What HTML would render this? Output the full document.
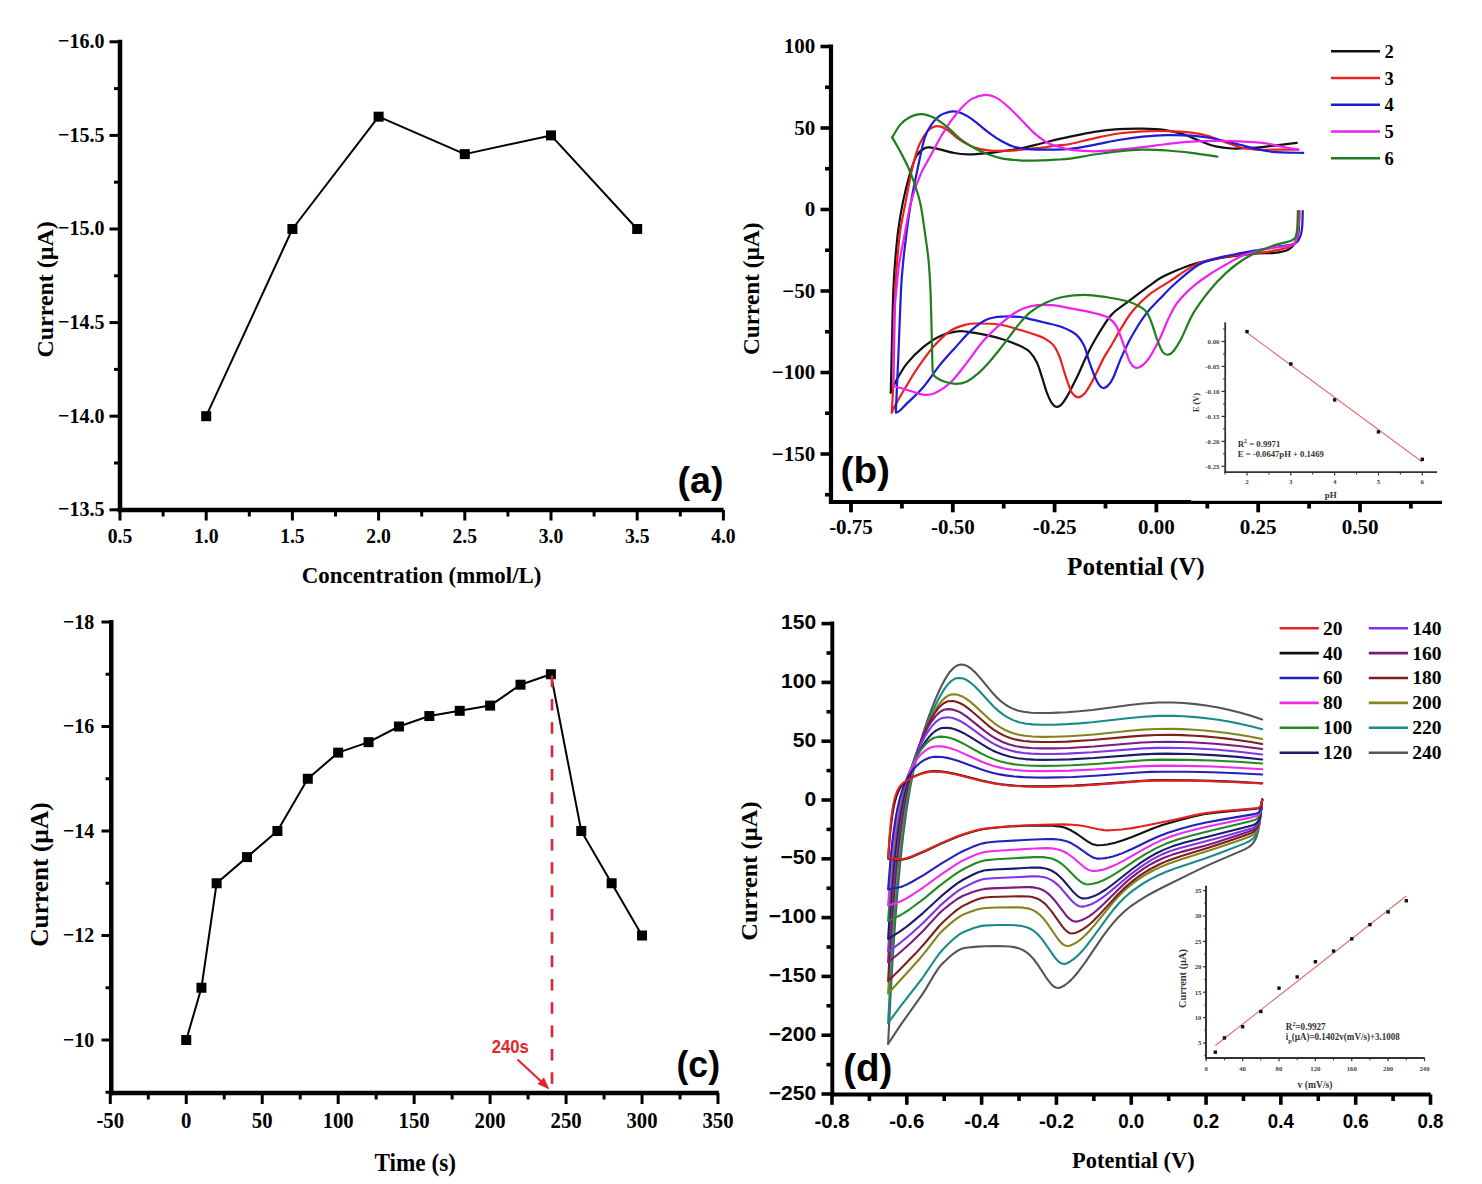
<!DOCTYPE html>
<html><head><meta charset="utf-8"><title>Figure</title><style>html,body{margin:0;padding:0;background:#fff;width:1482px;height:1184px;overflow:hidden}svg{display:block}</style></head><body>
<svg width="1482" height="1184" viewBox="0 0 1482 1184">
<rect width="1482" height="1184" fill="#fff"/>
<line x1="109.5" y1="41.8" x2="120" y2="41.8" stroke="#000" stroke-width="3"/>
<text x="104.5" y="48.1" font-size="22" font-family='"Liberation Serif", serif' font-weight="bold" fill="#000" text-anchor="end" textLength="46.4" lengthAdjust="spacingAndGlyphs">−16.0</text>
<line x1="114" y1="88.6" x2="120" y2="88.6" stroke="#000" stroke-width="3"/>
<line x1="109.5" y1="135.4" x2="120" y2="135.4" stroke="#000" stroke-width="3"/>
<text x="104.5" y="141.7" font-size="22" font-family='"Liberation Serif", serif' font-weight="bold" fill="#000" text-anchor="end" textLength="46.4" lengthAdjust="spacingAndGlyphs">−15.5</text>
<line x1="114" y1="182.2" x2="120" y2="182.2" stroke="#000" stroke-width="3"/>
<line x1="109.5" y1="229" x2="120" y2="229" stroke="#000" stroke-width="3"/>
<text x="104.5" y="235.3" font-size="22" font-family='"Liberation Serif", serif' font-weight="bold" fill="#000" text-anchor="end" textLength="46.4" lengthAdjust="spacingAndGlyphs">−15.0</text>
<line x1="114" y1="275.8" x2="120" y2="275.8" stroke="#000" stroke-width="3"/>
<line x1="109.5" y1="322.6" x2="120" y2="322.6" stroke="#000" stroke-width="3"/>
<text x="104.5" y="328.9" font-size="22" font-family='"Liberation Serif", serif' font-weight="bold" fill="#000" text-anchor="end" textLength="46.4" lengthAdjust="spacingAndGlyphs">−14.5</text>
<line x1="114" y1="369.4" x2="120" y2="369.4" stroke="#000" stroke-width="3"/>
<line x1="109.5" y1="416.2" x2="120" y2="416.2" stroke="#000" stroke-width="3"/>
<text x="104.5" y="422.5" font-size="22" font-family='"Liberation Serif", serif' font-weight="bold" fill="#000" text-anchor="end" textLength="46.4" lengthAdjust="spacingAndGlyphs">−14.0</text>
<line x1="114" y1="463" x2="120" y2="463" stroke="#000" stroke-width="3"/>
<line x1="109.5" y1="509.8" x2="120" y2="509.8" stroke="#000" stroke-width="3"/>
<text x="104.5" y="516.1" font-size="22" font-family='"Liberation Serif", serif' font-weight="bold" fill="#000" text-anchor="end" textLength="46.4" lengthAdjust="spacingAndGlyphs">−13.5</text>
<line x1="120" y1="510" x2="120" y2="520.5" stroke="#000" stroke-width="3"/>
<text x="120" y="542.7" font-size="21.5" font-family='"Liberation Serif", serif' font-weight="bold" fill="#000" text-anchor="middle" textLength="24.5" lengthAdjust="spacingAndGlyphs">0.5</text>
<line x1="163.1" y1="510" x2="163.1" y2="516.5" stroke="#000" stroke-width="3"/>
<line x1="206.2" y1="510" x2="206.2" y2="520.5" stroke="#000" stroke-width="3"/>
<text x="206.2" y="542.7" font-size="21.5" font-family='"Liberation Serif", serif' font-weight="bold" fill="#000" text-anchor="middle" textLength="24.5" lengthAdjust="spacingAndGlyphs">1.0</text>
<line x1="249.3" y1="510" x2="249.3" y2="516.5" stroke="#000" stroke-width="3"/>
<line x1="292.4" y1="510" x2="292.4" y2="520.5" stroke="#000" stroke-width="3"/>
<text x="292.4" y="542.7" font-size="21.5" font-family='"Liberation Serif", serif' font-weight="bold" fill="#000" text-anchor="middle" textLength="24.5" lengthAdjust="spacingAndGlyphs">1.5</text>
<line x1="335.5" y1="510" x2="335.5" y2="516.5" stroke="#000" stroke-width="3"/>
<line x1="378.6" y1="510" x2="378.6" y2="520.5" stroke="#000" stroke-width="3"/>
<text x="378.6" y="542.7" font-size="21.5" font-family='"Liberation Serif", serif' font-weight="bold" fill="#000" text-anchor="middle" textLength="24.5" lengthAdjust="spacingAndGlyphs">2.0</text>
<line x1="421.7" y1="510" x2="421.7" y2="516.5" stroke="#000" stroke-width="3"/>
<line x1="464.8" y1="510" x2="464.8" y2="520.5" stroke="#000" stroke-width="3"/>
<text x="464.8" y="542.7" font-size="21.5" font-family='"Liberation Serif", serif' font-weight="bold" fill="#000" text-anchor="middle" textLength="24.5" lengthAdjust="spacingAndGlyphs">2.5</text>
<line x1="507.9" y1="510" x2="507.9" y2="516.5" stroke="#000" stroke-width="3"/>
<line x1="551" y1="510" x2="551" y2="520.5" stroke="#000" stroke-width="3"/>
<text x="551" y="542.7" font-size="21.5" font-family='"Liberation Serif", serif' font-weight="bold" fill="#000" text-anchor="middle" textLength="24.5" lengthAdjust="spacingAndGlyphs">3.0</text>
<line x1="594.1" y1="510" x2="594.1" y2="516.5" stroke="#000" stroke-width="3"/>
<line x1="637.2" y1="510" x2="637.2" y2="520.5" stroke="#000" stroke-width="3"/>
<text x="637.2" y="542.7" font-size="21.5" font-family='"Liberation Serif", serif' font-weight="bold" fill="#000" text-anchor="middle" textLength="24.5" lengthAdjust="spacingAndGlyphs">3.5</text>
<line x1="680.3" y1="510" x2="680.3" y2="516.5" stroke="#000" stroke-width="3"/>
<line x1="723.4" y1="510" x2="723.4" y2="520.5" stroke="#000" stroke-width="3"/>
<text x="723.4" y="542.7" font-size="21.5" font-family='"Liberation Serif", serif' font-weight="bold" fill="#000" text-anchor="middle" textLength="24.5" lengthAdjust="spacingAndGlyphs">4.0</text>
<line x1="120" y1="39.8" x2="120" y2="512.2" stroke="#000" stroke-width="4.5"/>
<line x1="117.8" y1="510" x2="723.6" y2="510" stroke="#000" stroke-width="4.5"/>
<text x="421.6" y="583.4" font-size="23" font-family='"Liberation Serif", serif' font-weight="bold" fill="#000" text-anchor="middle" textLength="239.6" lengthAdjust="spacingAndGlyphs">Concentration (mmol/L)</text>
<text x="52.6" y="289.4" font-size="24" font-family='"Liberation Serif", serif' font-weight="bold" fill="#000" text-anchor="middle" textLength="136" lengthAdjust="spacingAndGlyphs" transform="rotate(-90 52.6 289.4)">Current (µA)</text>
<path d="M206.2 416.2 L292.4 229 L378.6 116.68 L464.8 154.12 L551 135.4 L637.2 229" fill="none" stroke="#000" stroke-width="2" stroke-linejoin="round" stroke-linecap="round"/>
<rect x="201.2" y="411.2" width="10" height="10" fill="#000"/>
<rect x="287.4" y="224" width="10" height="10" fill="#000"/>
<rect x="373.6" y="111.68" width="10" height="10" fill="#000"/>
<rect x="459.8" y="149.12" width="10" height="10" fill="#000"/>
<rect x="546" y="130.4" width="10" height="10" fill="#000"/>
<rect x="632.2" y="224" width="10" height="10" fill="#000"/>
<text x="677.5" y="493.3" font-size="37.5" font-family='"Liberation Sans", sans-serif' font-weight="bold" fill="#000" textLength="46" lengthAdjust="spacingAndGlyphs">(a)</text>
<line x1="820.5" y1="46.5" x2="831" y2="46.5" stroke="#000" stroke-width="3.6"/>
<text x="815.3" y="53.1" font-size="21" font-family='"Liberation Serif", serif' font-weight="bold" fill="#000" text-anchor="end">100</text>
<line x1="820.5" y1="128" x2="831" y2="128" stroke="#000" stroke-width="3.6"/>
<text x="815.3" y="134.6" font-size="21" font-family='"Liberation Serif", serif' font-weight="bold" fill="#000" text-anchor="end">50</text>
<line x1="820.5" y1="209.5" x2="831" y2="209.5" stroke="#000" stroke-width="3.6"/>
<text x="815.3" y="216.1" font-size="21" font-family='"Liberation Serif", serif' font-weight="bold" fill="#000" text-anchor="end">0</text>
<line x1="820.5" y1="291" x2="831" y2="291" stroke="#000" stroke-width="3.6"/>
<text x="815.3" y="297.6" font-size="21" font-family='"Liberation Serif", serif' font-weight="bold" fill="#000" text-anchor="end">−50</text>
<line x1="820.5" y1="372.5" x2="831" y2="372.5" stroke="#000" stroke-width="3.6"/>
<text x="815.3" y="379.1" font-size="21" font-family='"Liberation Serif", serif' font-weight="bold" fill="#000" text-anchor="end">−100</text>
<line x1="820.5" y1="454" x2="831" y2="454" stroke="#000" stroke-width="3.6"/>
<text x="815.3" y="460.6" font-size="21" font-family='"Liberation Serif", serif' font-weight="bold" fill="#000" text-anchor="end">−150</text>
<line x1="825" y1="87.25" x2="831" y2="87.25" stroke="#000" stroke-width="3.6"/>
<line x1="825" y1="168.75" x2="831" y2="168.75" stroke="#000" stroke-width="3.6"/>
<line x1="825" y1="250.25" x2="831" y2="250.25" stroke="#000" stroke-width="3.6"/>
<line x1="825" y1="331.75" x2="831" y2="331.75" stroke="#000" stroke-width="3.6"/>
<line x1="825" y1="413.25" x2="831" y2="413.25" stroke="#000" stroke-width="3.6"/>
<line x1="825" y1="494.75" x2="831" y2="494.75" stroke="#000" stroke-width="3.6"/>
<line x1="851" y1="502" x2="851" y2="512.3" stroke="#000" stroke-width="3.8"/>
<text x="851" y="533.8" font-size="21" font-family='"Liberation Serif", serif' font-weight="bold" fill="#000" text-anchor="middle">-0.75</text>
<line x1="952.8" y1="502" x2="952.8" y2="512.3" stroke="#000" stroke-width="3.8"/>
<text x="952.8" y="533.8" font-size="21" font-family='"Liberation Serif", serif' font-weight="bold" fill="#000" text-anchor="middle">-0.50</text>
<line x1="1054.6" y1="502" x2="1054.6" y2="512.3" stroke="#000" stroke-width="3.8"/>
<text x="1054.6" y="533.8" font-size="21" font-family='"Liberation Serif", serif' font-weight="bold" fill="#000" text-anchor="middle">-0.25</text>
<line x1="1156.4" y1="502" x2="1156.4" y2="512.3" stroke="#000" stroke-width="3.8"/>
<text x="1156.4" y="533.8" font-size="21" font-family='"Liberation Serif", serif' font-weight="bold" fill="#000" text-anchor="middle">0.00</text>
<line x1="1258.2" y1="502" x2="1258.2" y2="512.3" stroke="#000" stroke-width="3.8"/>
<text x="1258.2" y="533.8" font-size="21" font-family='"Liberation Serif", serif' font-weight="bold" fill="#000" text-anchor="middle">0.25</text>
<line x1="1360" y1="502" x2="1360" y2="512.3" stroke="#000" stroke-width="3.8"/>
<text x="1360" y="533.8" font-size="21" font-family='"Liberation Serif", serif' font-weight="bold" fill="#000" text-anchor="middle">0.50</text>
<line x1="901.9" y1="502" x2="901.9" y2="508.5" stroke="#000" stroke-width="3.8"/>
<line x1="1003.7" y1="502" x2="1003.7" y2="508.5" stroke="#000" stroke-width="3.8"/>
<line x1="1105.5" y1="502" x2="1105.5" y2="508.5" stroke="#000" stroke-width="3.8"/>
<line x1="1207.3" y1="502" x2="1207.3" y2="508.5" stroke="#000" stroke-width="3.8"/>
<line x1="1309.1" y1="502" x2="1309.1" y2="508.5" stroke="#000" stroke-width="3.8"/>
<line x1="1410.9" y1="502" x2="1410.9" y2="508.5" stroke="#000" stroke-width="3.8"/>
<line x1="831" y1="44.5" x2="831" y2="504.1" stroke="#000" stroke-width="4.2"/>
<line x1="828.9" y1="502" x2="1442" y2="502" stroke="#000" stroke-width="4.2"/>
<text x="1135.9" y="574.8" font-size="25" font-family='"Liberation Serif", serif' font-weight="bold" fill="#000" text-anchor="middle" textLength="137.6" lengthAdjust="spacingAndGlyphs">Potential (V)</text>
<text x="758.9" y="288.7" font-size="23" font-family='"Liberation Serif", serif' font-weight="bold" fill="#000" text-anchor="middle" textLength="132.6" lengthAdjust="spacingAndGlyphs" transform="rotate(-90 758.9 288.7)">Current (µA)</text>
<path d="M1296.7 142.9 C1294 143.22 1285.9 144.13 1280.5 144.8 C1275.1 145.47 1269.7 146.35 1264.3 146.9 C1258.9 147.45 1253.48 147.83 1248.1 148.1 C1242.72 148.37 1237.4 148.78 1232 148.5 C1226.6 148.22 1221.1 147.68 1215.7 146.4 C1210.3 145.12 1204.98 142.82 1199.6 140.8 C1194.22 138.78 1189.35 136.13 1183.4 134.3 C1177.45 132.47 1170.65 130.75 1163.9 129.8 C1157.15 128.85 1150.45 128.72 1142.9 128.6 C1135.35 128.48 1126.7 128.55 1118.6 129.1 C1110.5 129.65 1102.4 130.63 1094.3 131.9 C1086.2 133.17 1077.57 135.1 1070 136.7 C1062.43 138.3 1054.67 140.13 1048.9 141.5 C1043.13 142.87 1039.9 143.78 1035.4 144.9 C1030.9 146.02 1026.4 147.3 1021.9 148.2 C1017.4 149.1 1012.9 149.62 1008.4 150.3 C1003.9 150.98 999.4 151.75 994.9 152.3 C990.4 152.85 985.92 153.27 981.4 153.6 C976.88 153.93 972.32 154.4 967.8 154.3 C963.28 154.2 958.8 153.78 954.3 153 C949.8 152.22 944.62 150.5 940.8 149.6 C936.98 148.7 934.1 147.83 931.4 147.6 C928.7 147.37 927.08 146.85 924.6 148.2 C922.12 149.55 918.98 151.3 916.5 155.7 C914.02 160.1 911.95 166.95 909.7 174.6 C907.45 182.25 904.92 192.3 903 201.6 C901.08 210.9 899.5 220.53 898.2 230.4 C896.9 240.27 896.02 250.67 895.2 260.8 C894.38 270.93 893.85 277.33 893.3 291.2 C892.75 305.07 892.32 327.1 891.9 344 C891.48 360.9 890.98 384.5 890.8 392.6" fill="none" stroke="#111111" stroke-width="2.2" stroke-linejoin="round" stroke-linecap="round"/>
<path d="M890.8 392.6 C891.7 390.62 893.5 385.57 896.2 380.7 C898.9 375.83 902.5 368.98 907 363.4 C911.5 357.82 917.8 351.7 923.2 347.2 C928.6 342.7 934 339 939.4 336.4 C944.8 333.8 951.1 332.4 955.6 331.6 C960.1 330.8 961 330.98 966.4 331.6 C971.8 332.22 981.7 333.95 988 335.3 C994.3 336.65 998.8 337.9 1004.2 339.7 C1009.6 341.5 1016.1 344.02 1020.4 346.1 C1024.7 348.18 1027.27 349.5 1030 352.2 C1032.73 354.9 1034.77 358.03 1036.8 362.3 C1038.83 366.57 1040.52 372.73 1042.2 377.8 C1043.88 382.87 1045.33 388.53 1046.9 392.7 C1048.47 396.87 1050.02 400.43 1051.6 402.8 C1053.18 405.17 1054.82 406.55 1056.4 406.9 C1057.98 407.25 1059.42 406.48 1061.1 404.9 C1062.78 403.32 1064.7 400.33 1066.5 397.4 C1068.3 394.47 1069.88 391.23 1071.9 387.3 C1073.92 383.37 1076.23 378.87 1078.6 373.8 C1080.97 368.73 1083.38 362.53 1086.1 356.9 C1088.82 351.27 1090.75 346.93 1094.9 340 C1099.05 333.07 1105.62 321.57 1111 315.3 C1116.38 309.03 1120.9 307.25 1127.2 302.4 C1133.5 297.55 1143.2 290.32 1148.8 286.2 C1154.4 282.08 1156.1 280.37 1160.8 277.7 C1165.5 275.03 1171.6 272.45 1177 270.2 C1182.4 267.95 1187.8 265.82 1193.2 264.2 C1198.6 262.58 1204 261.67 1209.4 260.5 C1214.8 259.33 1220.2 258.1 1225.6 257.2 C1231 256.3 1236.4 255.73 1241.8 255.1 C1247.2 254.47 1252.6 253.77 1258 253.4 C1263.4 253.03 1269.17 253.52 1274.2 252.9 C1279.23 252.28 1284.73 251.35 1288.2 249.7 C1291.67 248.05 1293.28 245.95 1295 243 C1296.72 240.05 1297.78 237.33 1298.5 232 C1299.22 226.67 1299.17 214.5 1299.3 211" fill="none" stroke="#111111" stroke-width="2.2" stroke-linejoin="round" stroke-linecap="round"/>
<path d="M1298.3 149.7 C1293.98 149.7 1279.42 149.7 1272.4 149.7 C1265.38 149.7 1261.6 150.12 1256.2 149.7 C1250.8 149.28 1245.4 148.55 1240 147.2 C1234.6 145.85 1229.2 143.48 1223.8 141.6 C1218.4 139.72 1212.98 137.38 1207.6 135.9 C1202.22 134.42 1198.23 133.5 1191.5 132.7 C1184.77 131.9 1175.3 131.32 1167.2 131.1 C1159.1 130.88 1151 131 1142.9 131.4 C1134.8 131.8 1126.7 132.35 1118.6 133.5 C1110.5 134.65 1102.4 136.55 1094.3 138.3 C1086.2 140.05 1076.43 142.8 1070 144 C1063.57 145.2 1060.33 144.9 1055.7 145.5 C1051.07 146.1 1046.72 147.03 1042.2 147.6 C1037.68 148.17 1033.12 148.45 1028.6 148.9 C1024.08 149.35 1019.6 149.97 1015.1 150.3 C1010.6 150.63 1006.1 150.9 1001.6 150.9 C997.1 150.9 992.6 150.85 988.1 150.3 C983.6 149.75 978.65 148.95 974.6 147.6 C970.55 146.25 966.95 144 963.8 142.2 C960.65 140.4 958.4 138.83 955.7 136.8 C953 134.77 950.08 131.7 947.6 130 C945.12 128.3 943.05 127.17 940.8 126.6 C938.55 126.03 936.35 125.8 934.1 126.6 C931.85 127.4 929.78 128.35 927.3 131.4 C924.82 134.45 921.68 138.83 919.2 144.9 C916.72 150.97 914.65 158.35 912.4 167.8 C910.15 177.25 907.72 191.17 905.7 201.6 C903.68 212.03 901.72 220.53 900.3 230.4 C898.88 240.27 898.05 250.67 897.2 260.8 C896.35 270.93 895.7 278 895.2 291.2 C894.7 304.4 894.53 324.37 894.2 340 C893.87 355.63 893.6 372.92 893.2 385 C892.8 397.08 892.03 407.92 891.8 412.5" fill="none" stroke="#e8221e" stroke-width="2.2" stroke-linejoin="round" stroke-linecap="round"/>
<path d="M891.8 412.5 C892.53 410.98 893.67 407.98 896.2 403.4 C898.73 398.82 903.4 390.95 907 385 C910.6 379.05 913.3 374.18 917.8 367.7 C922.3 361.22 928.6 352.22 934 346.1 C939.4 339.98 944.8 334.6 950.2 331 C955.6 327.4 961.9 325.75 966.4 324.5 C970.9 323.25 971.8 323.5 977.2 323.5 C982.6 323.5 991.6 323.42 998.8 324.5 C1006 325.58 1013.53 328.02 1020.4 330 C1027.27 331.98 1035.58 334.73 1040 336.4 C1044.42 338.07 1044.63 338.5 1046.9 340 C1049.17 341.5 1051.57 342.82 1053.6 345.4 C1055.63 347.98 1057.4 351.33 1059.1 355.5 C1060.8 359.67 1062.35 365.88 1063.8 370.4 C1065.25 374.92 1066.45 378.88 1067.8 382.6 C1069.15 386.32 1070.2 390.23 1071.9 392.7 C1073.6 395.17 1075.97 397.17 1078 397.4 C1080.03 397.63 1081.97 396.35 1084.1 394.1 C1086.23 391.85 1088.55 387.85 1090.8 383.9 C1093.05 379.95 1095.35 374.9 1097.6 370.4 C1099.85 365.9 1102.07 360.97 1104.3 356.9 C1106.53 352.83 1108.08 350.95 1111 346 C1113.92 341.05 1118.2 333.03 1121.8 327.2 C1125.4 321.37 1128.1 316.4 1132.6 311 C1137.1 305.6 1142.5 299.83 1148.8 294.8 C1155.1 289.77 1163 285.62 1170.4 280.8 C1177.8 275.98 1186.7 269.38 1193.2 265.9 C1199.7 262.42 1204 261.43 1209.4 259.9 C1214.8 258.37 1220.2 257.6 1225.6 256.7 C1231 255.8 1236.4 255.13 1241.8 254.5 C1247.2 253.87 1252.6 253.53 1258 252.9 C1263.4 252.27 1268.82 251.78 1274.2 250.7 C1279.58 249.62 1286.67 248.18 1290.3 246.4 C1293.93 244.62 1294.58 243.57 1296 240 C1297.42 236.43 1298.25 229.83 1298.8 225 C1299.35 220.17 1299.22 213.33 1299.3 211" fill="none" stroke="#e8221e" stroke-width="2.2" stroke-linejoin="round" stroke-linecap="round"/>
<path d="M1303.2 152.9 C1298.07 152.72 1280.23 152.47 1272.4 151.8 C1264.57 151.13 1261.6 150.07 1256.2 148.9 C1250.8 147.73 1245.4 146.15 1240 144.8 C1234.6 143.45 1229.2 142.02 1223.8 140.8 C1218.4 139.58 1212.98 138.37 1207.6 137.5 C1202.22 136.63 1198.23 136 1191.5 135.6 C1184.77 135.2 1175.3 134.92 1167.2 135.1 C1159.1 135.28 1151 135.88 1142.9 136.7 C1134.8 137.52 1126.7 138.65 1118.6 140 C1110.5 141.35 1102.4 143.32 1094.3 144.8 C1086.2 146.28 1076.88 148.1 1070 148.9 C1063.12 149.7 1058.08 149.48 1053 149.6 C1047.92 149.72 1044.02 149.72 1039.5 149.6 C1034.98 149.48 1030.42 149.47 1025.9 148.9 C1021.38 148.33 1016.9 147.77 1012.4 146.2 C1007.9 144.63 1003.4 142.2 998.9 139.5 C994.4 136.8 989.9 133.38 985.4 130 C980.9 126.62 975.95 122.02 971.9 119.2 C967.85 116.38 964.15 114.4 961.1 113.1 C958.05 111.8 955.85 111.52 953.6 111.4 C951.35 111.28 949.95 111.67 947.6 112.4 C945.25 113.13 942.2 113.77 939.5 115.8 C936.8 117.83 933.88 120.88 931.4 124.6 C928.92 128.32 926.87 130.9 924.6 138.1 C922.33 145.3 920.05 157.22 917.8 167.8 C915.55 178.38 912.92 191.17 911.1 201.6 C909.28 212.03 908.2 220.53 906.9 230.4 C905.6 240.27 904.28 250.87 903.3 260.8 C902.32 270.73 901.82 274.33 901 290 C900.18 305.67 899.2 335.9 898.4 354.8 C897.6 373.7 896.6 393.78 896.2 403.4 C895.8 413.02 896.03 410.98 896 412.5" fill="none" stroke="#1c1cd8" stroke-width="2.2" stroke-linejoin="round" stroke-linecap="round"/>
<path d="M896 412.5 C896.57 412.25 897.57 412.52 899.4 411 C901.23 409.48 903.03 407.37 907 403.4 C910.97 399.43 917.8 393.5 923.2 387.2 C928.6 380.9 934 372.27 939.4 365.6 C944.8 358.93 950.2 353.15 955.6 347.2 C961 341.25 966.4 334.58 971.8 329.9 C977.2 325.22 982.6 321.33 988 319.1 C993.4 316.87 998.8 316.85 1004.2 316.5 C1009.6 316.15 1016.1 316.57 1020.4 317 C1024.7 317.43 1025.7 318.12 1030 319.1 C1034.3 320.08 1040.8 321.55 1046.2 322.9 C1051.6 324.25 1057.37 325.22 1062.4 327.2 C1067.43 329.18 1072.8 331.73 1076.4 334.8 C1080 337.87 1081.93 341.35 1084 345.6 C1086.07 349.85 1087.1 355.38 1088.8 360.3 C1090.5 365.22 1092.52 371.05 1094.2 375.1 C1095.88 379.15 1097.43 382.45 1098.9 384.6 C1100.37 386.75 1101.53 387.78 1103 388 C1104.47 388.22 1106.02 387.57 1107.7 385.9 C1109.38 384.23 1110.75 382.92 1113.1 378 C1115.45 373.08 1118.55 363.6 1121.8 356.4 C1125.05 349.2 1128.47 342 1132.6 334.8 C1136.73 327.6 1142.1 319.15 1146.6 313.2 C1151.1 307.25 1154.75 304.13 1159.6 299.1 C1164.45 294.07 1169.2 288.72 1175.7 283 C1182.2 277.28 1192.08 268.83 1198.6 264.8 C1205.12 260.77 1208.5 260.6 1214.8 258.8 C1221.1 257 1229.2 255.43 1236.4 254 C1243.6 252.57 1250.8 251.47 1258 250.2 C1265.2 248.93 1273.32 247.57 1279.6 246.4 C1285.88 245.23 1292.05 245.6 1295.7 243.2 C1299.35 240.8 1300.32 237.37 1301.5 232 C1302.68 226.63 1302.58 214.5 1302.8 211" fill="none" stroke="#1c1cd8" stroke-width="2.2" stroke-linejoin="round" stroke-linecap="round"/>
<path d="M1298.3 149.7 C1295.33 149.15 1286.17 147.48 1280.5 146.4 C1274.83 145.32 1271.05 144.05 1264.3 143.2 C1257.55 142.35 1248.1 141.7 1240 141.3 C1231.9 140.9 1223.78 140.75 1215.7 140.8 C1207.62 140.85 1199.58 141.07 1191.5 141.6 C1183.42 142.13 1175.3 143.07 1167.2 144 C1159.1 144.93 1151 146.25 1142.9 147.2 C1134.8 148.15 1126.7 149.02 1118.6 149.7 C1110.5 150.38 1102.4 151.3 1094.3 151.3 C1086.2 151.3 1075.32 150.32 1070 149.7 C1064.68 149.08 1065.92 148.63 1062.4 147.6 C1058.88 146.57 1053.4 145.75 1048.9 143.5 C1044.4 141.25 1039.9 137.93 1035.4 134.1 C1030.9 130.27 1026.4 125.02 1021.9 120.5 C1017.4 115.98 1012.68 110.82 1008.4 107 C1004.12 103.18 1000.03 99.62 996.2 97.6 C992.37 95.58 989.45 94.68 985.4 94.9 C981.35 95.12 975.95 96.65 971.9 98.9 C967.85 101.15 964.7 104.57 961.1 108.4 C957.5 112.23 953.68 117.17 950.3 121.9 C946.92 126.63 943.95 131.4 940.8 136.8 C937.65 142.2 934.78 148 931.4 154.3 C928.02 160.6 923.88 166.72 920.5 174.6 C917.12 182.48 913.92 190.7 911.1 201.6 C908.28 212.5 905.62 229.43 903.6 240 C901.58 250.57 900.23 256.47 899 265 C897.77 273.53 896.93 283.7 896.2 291.2 C895.47 298.7 895.05 301.2 894.6 310 C894.15 318.8 893.68 331.33 893.5 344 C893.32 356.67 893.5 379 893.5 386" fill="none" stroke="#ee22ee" stroke-width="2.2" stroke-linejoin="round" stroke-linecap="round"/>
<path d="M893.5 386 C894.85 386.37 898.45 387.28 901.6 388.2 C904.75 389.12 908.8 390.42 912.4 391.5 C916 392.58 919.6 394.35 923.2 394.7 C926.8 395.05 929.5 395.58 934 393.6 C938.5 391.62 944.8 387.83 950.2 382.8 C955.6 377.77 961 370.23 966.4 363.4 C971.8 356.57 977.2 348.1 982.6 341.8 C988 335.5 993.4 330.45 998.8 325.6 C1004.2 320.75 1009.62 315.93 1015 312.7 C1020.38 309.47 1025 307.47 1031.1 306.2 C1037.2 304.93 1044.58 304.65 1051.6 305.1 C1058.62 305.55 1066 307.55 1073.2 308.9 C1080.4 310.25 1089.05 311.77 1094.8 313.2 C1100.55 314.63 1104.1 315.35 1107.7 317.5 C1111.3 319.65 1113.7 321.42 1116.4 326.1 C1119.1 330.78 1121.57 339.48 1123.9 345.6 C1126.23 351.72 1128.05 359.12 1130.4 362.8 C1132.75 366.48 1134.93 368.42 1138 367.7 C1141.07 366.98 1145.2 363.27 1148.8 358.5 C1152.4 353.73 1156.32 345.75 1159.6 339.1 C1162.88 332.45 1165.52 324.7 1168.5 318.6 C1171.48 312.5 1173.38 307.87 1177.5 302.5 C1181.62 297.13 1187.88 291.07 1193.2 286.4 C1198.52 281.73 1204 278.1 1209.4 274.5 C1214.8 270.9 1220.2 267.87 1225.6 264.8 C1231 261.73 1236.4 258.45 1241.8 256.1 C1247.2 253.75 1252.6 252.13 1258 250.7 C1263.4 249.27 1268.82 248.4 1274.2 247.5 C1279.58 246.6 1286.5 246.88 1290.3 245.3 C1294.1 243.72 1295.62 243.72 1297 238 C1298.38 232.28 1298.33 215.5 1298.6 211" fill="none" stroke="#ee22ee" stroke-width="2.2" stroke-linejoin="round" stroke-linecap="round"/>
<path d="M1217.4 156.6 C1213.08 155.98 1199.87 153.92 1191.5 152.9 C1183.13 151.88 1175.3 151.03 1167.2 150.5 C1159.1 149.97 1151 149.57 1142.9 149.7 C1134.8 149.83 1126.7 150.5 1118.6 151.3 C1110.5 152.1 1102.4 153.28 1094.3 154.5 C1086.2 155.72 1076.43 157.73 1070 158.6 C1063.57 159.47 1060.33 159.4 1055.7 159.7 C1051.07 160 1046.72 160.23 1042.2 160.4 C1037.68 160.57 1033.12 160.77 1028.6 160.7 C1024.08 160.63 1019.6 160.38 1015.1 160 C1010.6 159.62 1006.1 159.35 1001.6 158.4 C997.1 157.45 992.6 156 988.1 154.3 C983.6 152.6 979.1 150.67 974.6 148.2 C970.1 145.73 965.6 142.98 961.1 139.5 C956.6 136.02 952.12 130.92 947.6 127.3 C943.08 123.68 938.4 120 934 117.8 C929.6 115.6 925.25 114.2 921.2 114.1 C917.15 114 913.18 115.45 909.7 117.2 C906.22 118.95 903.22 121.23 900.3 124.6 C897.38 127.97 893.55 135.27 892.2 137.4" fill="none" stroke="#1f7f1f" stroke-width="2.2" stroke-linejoin="round" stroke-linecap="round"/>
<path d="M892.2 137.4 C893.55 139.77 897.6 146.53 900.3 151.6 C903 156.67 905.93 162.17 908.4 167.8 C910.87 173.43 913.08 179.32 915.1 185.4 C917.12 191.48 918.92 196.8 920.5 204.3 C922.08 211.8 923.25 220.98 924.6 230.4 C925.95 239.82 927.62 250.67 928.6 260.8 C929.58 270.93 930.03 280.93 930.5 291.2 C930.97 301.47 931.12 311.8 931.4 322.4 C931.68 333 931.95 346.45 932.2 354.8 C932.45 363.15 932.25 368.73 932.9 372.5 C933.55 376.27 934.12 375.85 936.1 377.4 C938.08 378.95 941.55 380.72 944.8 381.8 C948.05 382.88 952 383.9 955.6 383.9 C959.2 383.9 962.8 383.42 966.4 381.8 C970 380.18 973.6 377.27 977.2 374.2 C980.8 371.13 984.4 367.35 988 363.4 C991.6 359.45 995.2 355 998.8 350.5 C1002.4 346 1006 341.08 1009.6 336.4 C1013.2 331.72 1016.82 326.53 1020.4 322.4 C1023.98 318.27 1026.8 314.93 1031.1 311.6 C1035.4 308.27 1040.98 304.83 1046.2 302.4 C1051.42 299.97 1056.1 298.27 1062.4 297 C1068.7 295.73 1076.8 294.8 1084 294.8 C1091.2 294.8 1098.4 295.92 1105.6 297 C1112.8 298.08 1121.8 299.87 1127.2 301.3 C1132.6 302.73 1134.77 303.8 1138 305.6 C1141.23 307.4 1144.27 309.03 1146.6 312.1 C1148.93 315.17 1150.2 319.32 1152 324 C1153.8 328.68 1155.6 335.52 1157.4 340.2 C1159.2 344.88 1161 349.68 1162.8 352.1 C1164.6 354.52 1166.4 354.88 1168.2 354.7 C1170 354.52 1171.45 353.6 1173.6 351 C1175.75 348.4 1177.83 345.37 1181.1 339.1 C1184.37 332.83 1188.48 321.47 1193.2 313.4 C1197.92 305.33 1204 297.37 1209.4 290.7 C1214.8 284.03 1220.2 278.43 1225.6 273.4 C1231 268.37 1236.4 264.1 1241.8 260.5 C1247.2 256.9 1252.6 254.33 1258 251.8 C1263.4 249.27 1268.45 247.27 1274.2 245.3 C1279.95 243.33 1288.73 242.22 1292.5 240 C1296.27 237.78 1295.9 236.83 1296.8 232 C1297.7 227.17 1297.72 214.5 1297.9 211" fill="none" stroke="#1f7f1f" stroke-width="2.2" stroke-linejoin="round" stroke-linecap="round"/>
<line x1="1331" y1="51.3" x2="1380" y2="51.3" stroke="#111111" stroke-width="2.4"/>
<text x="1384.5" y="57.8" font-size="18.5" font-family='"Liberation Serif", serif' font-weight="bold" fill="#000">2</text>
<line x1="1331" y1="78.05" x2="1380" y2="78.05" stroke="#e8221e" stroke-width="2.4"/>
<text x="1384.5" y="84.55" font-size="18.5" font-family='"Liberation Serif", serif' font-weight="bold" fill="#000">3</text>
<line x1="1331" y1="104.8" x2="1380" y2="104.8" stroke="#1c1cd8" stroke-width="2.4"/>
<text x="1384.5" y="111.3" font-size="18.5" font-family='"Liberation Serif", serif' font-weight="bold" fill="#000">4</text>
<line x1="1331" y1="131.55" x2="1380" y2="131.55" stroke="#ee22ee" stroke-width="2.4"/>
<text x="1384.5" y="138.05" font-size="18.5" font-family='"Liberation Serif", serif' font-weight="bold" fill="#000">5</text>
<line x1="1331" y1="158.3" x2="1380" y2="158.3" stroke="#1f7f1f" stroke-width="2.4"/>
<text x="1384.5" y="164.8" font-size="18.5" font-family='"Liberation Serif", serif' font-weight="bold" fill="#000">6</text>
<text x="840.5" y="483" font-size="37.5" font-family='"Liberation Sans", sans-serif' font-weight="bold" fill="#000" textLength="49.5" lengthAdjust="spacingAndGlyphs">(b)</text>
<rect x="1191" y="497.5" width="254" height="3.3" fill="#fff"/>
<line x1="1225.2" y1="322.3" x2="1225.2" y2="473" stroke="#333" stroke-width="1.8"/>
<line x1="1224.3" y1="472.2" x2="1437" y2="472.2" stroke="#333" stroke-width="1.8"/>
<line x1="1221.5" y1="341.5" x2="1225" y2="341.5" stroke="#333" stroke-width="1.2"/>
<text x="1219.5" y="344" font-size="6.8" font-family='"Liberation Serif", serif' font-weight="bold" fill="#444" text-anchor="end">0.00</text>
<line x1="1221.5" y1="366.46" x2="1225" y2="366.46" stroke="#333" stroke-width="1.2"/>
<text x="1219.5" y="368.96" font-size="6.8" font-family='"Liberation Serif", serif' font-weight="bold" fill="#444" text-anchor="end">-0.05</text>
<line x1="1221.5" y1="391.42" x2="1225" y2="391.42" stroke="#333" stroke-width="1.2"/>
<text x="1219.5" y="393.92" font-size="6.8" font-family='"Liberation Serif", serif' font-weight="bold" fill="#444" text-anchor="end">-0.10</text>
<line x1="1221.5" y1="416.38" x2="1225" y2="416.38" stroke="#333" stroke-width="1.2"/>
<text x="1219.5" y="418.88" font-size="6.8" font-family='"Liberation Serif", serif' font-weight="bold" fill="#444" text-anchor="end">-0.15</text>
<line x1="1221.5" y1="441.34" x2="1225" y2="441.34" stroke="#333" stroke-width="1.2"/>
<text x="1219.5" y="443.84" font-size="6.8" font-family='"Liberation Serif", serif' font-weight="bold" fill="#444" text-anchor="end">-0.20</text>
<line x1="1221.5" y1="466.3" x2="1225" y2="466.3" stroke="#333" stroke-width="1.2"/>
<text x="1219.5" y="468.8" font-size="6.8" font-family='"Liberation Serif", serif' font-weight="bold" fill="#444" text-anchor="end">-0.25</text>
<line x1="1223" y1="329.02" x2="1225" y2="329.02" stroke="#333" stroke-width="1"/>
<line x1="1223" y1="353.98" x2="1225" y2="353.98" stroke="#333" stroke-width="1"/>
<line x1="1223" y1="378.94" x2="1225" y2="378.94" stroke="#333" stroke-width="1"/>
<line x1="1223" y1="403.9" x2="1225" y2="403.9" stroke="#333" stroke-width="1"/>
<line x1="1223" y1="428.86" x2="1225" y2="428.86" stroke="#333" stroke-width="1"/>
<line x1="1223" y1="453.82" x2="1225" y2="453.82" stroke="#333" stroke-width="1"/>
<line x1="1247" y1="472.2" x2="1247" y2="475.5" stroke="#333" stroke-width="1.2"/>
<text x="1247" y="484" font-size="7" font-family='"Liberation Serif", serif' font-weight="bold" fill="#444" text-anchor="middle">2</text>
<line x1="1290.82" y1="472.2" x2="1290.82" y2="475.5" stroke="#333" stroke-width="1.2"/>
<text x="1290.82" y="484" font-size="7" font-family='"Liberation Serif", serif' font-weight="bold" fill="#444" text-anchor="middle">3</text>
<line x1="1334.64" y1="472.2" x2="1334.64" y2="475.5" stroke="#333" stroke-width="1.2"/>
<text x="1334.64" y="484" font-size="7" font-family='"Liberation Serif", serif' font-weight="bold" fill="#444" text-anchor="middle">4</text>
<line x1="1378.46" y1="472.2" x2="1378.46" y2="475.5" stroke="#333" stroke-width="1.2"/>
<text x="1378.46" y="484" font-size="7" font-family='"Liberation Serif", serif' font-weight="bold" fill="#444" text-anchor="middle">5</text>
<line x1="1422.28" y1="472.2" x2="1422.28" y2="475.5" stroke="#333" stroke-width="1.2"/>
<text x="1422.28" y="484" font-size="7" font-family='"Liberation Serif", serif' font-weight="bold" fill="#444" text-anchor="middle">6</text>
<line x1="1225.09" y1="472.2" x2="1225.09" y2="474.5" stroke="#333" stroke-width="1"/>
<line x1="1268.91" y1="472.2" x2="1268.91" y2="474.5" stroke="#333" stroke-width="1"/>
<line x1="1312.73" y1="472.2" x2="1312.73" y2="474.5" stroke="#333" stroke-width="1"/>
<line x1="1356.55" y1="472.2" x2="1356.55" y2="474.5" stroke="#333" stroke-width="1"/>
<line x1="1400.37" y1="472.2" x2="1400.37" y2="474.5" stroke="#333" stroke-width="1"/>
<text x="1330.8" y="497.7" font-size="8.9" font-family='"Liberation Serif", serif' font-weight="bold" fill="#333" text-anchor="middle" textLength="11.9" lengthAdjust="spacingAndGlyphs">pH</text>
<text x="1199.3" y="402.5" font-size="8.2" font-family='"Liberation Serif", serif' font-weight="bold" fill="#333" text-anchor="middle" textLength="19" lengthAdjust="spacingAndGlyphs" transform="rotate(-90 1199.3 402.5)">E (V)</text>
<line x1="1247" y1="332.76" x2="1422.28" y2="461.96" stroke="#e07070" stroke-width="1.1"/>
<rect x="1245.3" y="329.82" width="3.4" height="3.4" fill="#111"/>
<rect x="1289.12" y="362.26" width="3.4" height="3.4" fill="#111"/>
<rect x="1332.94" y="398.21" width="3.4" height="3.4" fill="#111"/>
<rect x="1376.76" y="430.16" width="3.4" height="3.4" fill="#111"/>
<rect x="1420.58" y="457.61" width="3.4" height="3.4" fill="#111"/>
<text x="1237.8" y="446.6" font-size="8.8" font-family='"Liberation Serif", serif' font-weight="bold" fill="#333" textLength="42.5" lengthAdjust="spacingAndGlyphs">R<tspan font-size="6" dy="-3.5">2</tspan><tspan dy="3.5"> = 0.9971</tspan></text>
<text x="1237.8" y="456.7" font-size="8.8" font-family='"Liberation Serif", serif' font-weight="bold" fill="#333" textLength="86" lengthAdjust="spacingAndGlyphs">E = -0.0647pH + 0.1469</text>
<line x1="101.5" y1="622" x2="111" y2="622" stroke="#000" stroke-width="3"/>
<text x="94.3" y="628.6" font-size="22" font-family='"Liberation Serif", serif' font-weight="bold" fill="#000" text-anchor="end" textLength="31.32" lengthAdjust="spacingAndGlyphs">−18</text>
<line x1="105.5" y1="674.25" x2="111" y2="674.25" stroke="#000" stroke-width="3"/>
<line x1="101.5" y1="726.5" x2="111" y2="726.5" stroke="#000" stroke-width="3"/>
<text x="94.3" y="733.1" font-size="22" font-family='"Liberation Serif", serif' font-weight="bold" fill="#000" text-anchor="end" textLength="31.32" lengthAdjust="spacingAndGlyphs">−16</text>
<line x1="105.5" y1="778.75" x2="111" y2="778.75" stroke="#000" stroke-width="3"/>
<line x1="101.5" y1="831" x2="111" y2="831" stroke="#000" stroke-width="3"/>
<text x="94.3" y="837.6" font-size="22" font-family='"Liberation Serif", serif' font-weight="bold" fill="#000" text-anchor="end" textLength="31.32" lengthAdjust="spacingAndGlyphs">−14</text>
<line x1="105.5" y1="883.25" x2="111" y2="883.25" stroke="#000" stroke-width="3"/>
<line x1="101.5" y1="935.5" x2="111" y2="935.5" stroke="#000" stroke-width="3"/>
<text x="94.3" y="942.1" font-size="22" font-family='"Liberation Serif", serif' font-weight="bold" fill="#000" text-anchor="end" textLength="31.32" lengthAdjust="spacingAndGlyphs">−12</text>
<line x1="105.5" y1="987.75" x2="111" y2="987.75" stroke="#000" stroke-width="3"/>
<line x1="101.5" y1="1040" x2="111" y2="1040" stroke="#000" stroke-width="3"/>
<text x="94.3" y="1046.6" font-size="22" font-family='"Liberation Serif", serif' font-weight="bold" fill="#000" text-anchor="end" textLength="31.32" lengthAdjust="spacingAndGlyphs">−10</text>
<line x1="105.5" y1="1092.25" x2="111" y2="1092.25" stroke="#000" stroke-width="3"/>
<line x1="110.28" y1="1093" x2="110.28" y2="1104" stroke="#000" stroke-width="3"/>
<text x="110.28" y="1127.7" font-size="23" font-family='"Liberation Serif", serif' font-weight="bold" fill="#000" text-anchor="middle" textLength="27.59" lengthAdjust="spacingAndGlyphs">-50</text>
<line x1="148.27" y1="1093" x2="148.27" y2="1099.5" stroke="#000" stroke-width="3"/>
<line x1="186.25" y1="1093" x2="186.25" y2="1104" stroke="#000" stroke-width="3"/>
<text x="186.25" y="1127.7" font-size="23" font-family='"Liberation Serif", serif' font-weight="bold" fill="#000" text-anchor="middle" textLength="10.35" lengthAdjust="spacingAndGlyphs">0</text>
<line x1="224.23" y1="1093" x2="224.23" y2="1099.5" stroke="#000" stroke-width="3"/>
<line x1="262.22" y1="1093" x2="262.22" y2="1104" stroke="#000" stroke-width="3"/>
<text x="262.22" y="1127.7" font-size="23" font-family='"Liberation Serif", serif' font-weight="bold" fill="#000" text-anchor="middle" textLength="20.7" lengthAdjust="spacingAndGlyphs">50</text>
<line x1="300.2" y1="1093" x2="300.2" y2="1099.5" stroke="#000" stroke-width="3"/>
<line x1="338.18" y1="1093" x2="338.18" y2="1104" stroke="#000" stroke-width="3"/>
<text x="338.18" y="1127.7" font-size="23" font-family='"Liberation Serif", serif' font-weight="bold" fill="#000" text-anchor="middle" textLength="31.05" lengthAdjust="spacingAndGlyphs">100</text>
<line x1="376.16" y1="1093" x2="376.16" y2="1099.5" stroke="#000" stroke-width="3"/>
<line x1="414.14" y1="1093" x2="414.14" y2="1104" stroke="#000" stroke-width="3"/>
<text x="414.14" y="1127.7" font-size="23" font-family='"Liberation Serif", serif' font-weight="bold" fill="#000" text-anchor="middle" textLength="31.05" lengthAdjust="spacingAndGlyphs">150</text>
<line x1="452.13" y1="1093" x2="452.13" y2="1099.5" stroke="#000" stroke-width="3"/>
<line x1="490.11" y1="1093" x2="490.11" y2="1104" stroke="#000" stroke-width="3"/>
<text x="490.11" y="1127.7" font-size="23" font-family='"Liberation Serif", serif' font-weight="bold" fill="#000" text-anchor="middle" textLength="31.05" lengthAdjust="spacingAndGlyphs">200</text>
<line x1="528.09" y1="1093" x2="528.09" y2="1099.5" stroke="#000" stroke-width="3"/>
<line x1="566.08" y1="1093" x2="566.08" y2="1104" stroke="#000" stroke-width="3"/>
<text x="566.08" y="1127.7" font-size="23" font-family='"Liberation Serif", serif' font-weight="bold" fill="#000" text-anchor="middle" textLength="31.05" lengthAdjust="spacingAndGlyphs">250</text>
<line x1="604.06" y1="1093" x2="604.06" y2="1099.5" stroke="#000" stroke-width="3"/>
<line x1="642.04" y1="1093" x2="642.04" y2="1104" stroke="#000" stroke-width="3"/>
<text x="642.04" y="1127.7" font-size="23" font-family='"Liberation Serif", serif' font-weight="bold" fill="#000" text-anchor="middle" textLength="31.05" lengthAdjust="spacingAndGlyphs">300</text>
<line x1="680.02" y1="1093" x2="680.02" y2="1099.5" stroke="#000" stroke-width="3"/>
<line x1="718" y1="1093" x2="718" y2="1104" stroke="#000" stroke-width="3"/>
<text x="718" y="1127.7" font-size="23" font-family='"Liberation Serif", serif' font-weight="bold" fill="#000" text-anchor="middle" textLength="31.05" lengthAdjust="spacingAndGlyphs">350</text>
<line x1="111.25" y1="620" x2="111.25" y2="1095.2" stroke="#000" stroke-width="4.5"/>
<line x1="109" y1="1093" x2="718.8" y2="1093" stroke="#000" stroke-width="4.5"/>
<text x="415.2" y="1170.5" font-size="25" font-family='"Liberation Serif", serif' font-weight="bold" fill="#000" text-anchor="middle" textLength="81.5" lengthAdjust="spacingAndGlyphs">Time (s)</text>
<text x="47.6" y="874.5" font-size="25" font-family='"Liberation Serif", serif' font-weight="bold" fill="#000" text-anchor="middle" textLength="144.5" lengthAdjust="spacingAndGlyphs" transform="rotate(-90 47.6 874.5)">Current (µA)</text>
<path d="M186.25 1040 L201.44 987.75 L216.64 883.25 L247.02 857.12 L277.41 831 L307.79 778.75 L338.18 752.62 L368.57 742.17 L398.95 726.5 L429.34 716.05 L459.72 710.83 L490.11 705.6 L520.5 684.7 L550.88 674.25 L581.27 831 L611.65 883.25 L642.04 935.5" fill="none" stroke="#000" stroke-width="2" stroke-linejoin="round" stroke-linecap="round"/>
<rect x="181.25" y="1035" width="10" height="10" fill="#000"/>
<rect x="196.44" y="982.75" width="10" height="10" fill="#000"/>
<rect x="211.64" y="878.25" width="10" height="10" fill="#000"/>
<rect x="242.02" y="852.12" width="10" height="10" fill="#000"/>
<rect x="272.41" y="826" width="10" height="10" fill="#000"/>
<rect x="302.79" y="773.75" width="10" height="10" fill="#000"/>
<rect x="333.18" y="747.62" width="10" height="10" fill="#000"/>
<rect x="363.57" y="737.17" width="10" height="10" fill="#000"/>
<rect x="393.95" y="721.5" width="10" height="10" fill="#000"/>
<rect x="424.34" y="711.05" width="10" height="10" fill="#000"/>
<rect x="454.72" y="705.83" width="10" height="10" fill="#000"/>
<rect x="485.11" y="700.6" width="10" height="10" fill="#000"/>
<rect x="515.5" y="679.7" width="10" height="10" fill="#000"/>
<rect x="545.88" y="669.25" width="10" height="10" fill="#000"/>
<rect x="576.27" y="826" width="10" height="10" fill="#000"/>
<rect x="606.65" y="878.25" width="10" height="10" fill="#000"/>
<rect x="637.04" y="930.5" width="10" height="10" fill="#000"/>
<line x1="552" y1="675.6" x2="552" y2="1091" stroke="#d02a3e" stroke-width="2.7" stroke-dasharray="11.6 11.73"/>
<text x="510.2" y="1052.5" font-size="17.5" font-family='"Liberation Sans", sans-serif' font-weight="bold" fill="#e0252b" text-anchor="middle" textLength="37" lengthAdjust="spacingAndGlyphs">240s</text>
<line x1="517.5" y1="1059.5" x2="544.5" y2="1084.5" stroke="#e0252b" stroke-width="2.2"/>
<path d="M549.5 1089.5 L537.5 1084 L544 1077.5 Z" fill="#e0252b"/>
<text x="676.5" y="1077.3" font-size="37.5" font-family='"Liberation Sans", sans-serif' font-weight="bold" fill="#000" textLength="43.5" lengthAdjust="spacingAndGlyphs">(c)</text>
<line x1="821.5" y1="623.6" x2="832.5" y2="623.6" stroke="#000" stroke-width="3.6"/>
<text x="816.1" y="629.2" font-size="21" font-family='"Liberation Sans", sans-serif' font-weight="bold" fill="#000" text-anchor="end">150</text>
<line x1="821.5" y1="682.4" x2="832.5" y2="682.4" stroke="#000" stroke-width="3.6"/>
<text x="816.1" y="688" font-size="21" font-family='"Liberation Sans", sans-serif' font-weight="bold" fill="#000" text-anchor="end">100</text>
<line x1="821.5" y1="741.2" x2="832.5" y2="741.2" stroke="#000" stroke-width="3.6"/>
<text x="816.1" y="746.8" font-size="21" font-family='"Liberation Sans", sans-serif' font-weight="bold" fill="#000" text-anchor="end">50</text>
<line x1="821.5" y1="800" x2="832.5" y2="800" stroke="#000" stroke-width="3.6"/>
<text x="816.1" y="805.6" font-size="21" font-family='"Liberation Sans", sans-serif' font-weight="bold" fill="#000" text-anchor="end">0</text>
<line x1="821.5" y1="858.8" x2="832.5" y2="858.8" stroke="#000" stroke-width="3.6"/>
<text x="816.1" y="864.4" font-size="21" font-family='"Liberation Sans", sans-serif' font-weight="bold" fill="#000" text-anchor="end">−50</text>
<line x1="821.5" y1="917.6" x2="832.5" y2="917.6" stroke="#000" stroke-width="3.6"/>
<text x="816.1" y="923.2" font-size="21" font-family='"Liberation Sans", sans-serif' font-weight="bold" fill="#000" text-anchor="end">−100</text>
<line x1="821.5" y1="976.4" x2="832.5" y2="976.4" stroke="#000" stroke-width="3.6"/>
<text x="816.1" y="982" font-size="21" font-family='"Liberation Sans", sans-serif' font-weight="bold" fill="#000" text-anchor="end">−150</text>
<line x1="821.5" y1="1035.2" x2="832.5" y2="1035.2" stroke="#000" stroke-width="3.6"/>
<text x="816.1" y="1040.8" font-size="21" font-family='"Liberation Sans", sans-serif' font-weight="bold" fill="#000" text-anchor="end">−200</text>
<line x1="821.5" y1="1094" x2="832.5" y2="1094" stroke="#000" stroke-width="3.6"/>
<text x="816.1" y="1099.6" font-size="21" font-family='"Liberation Sans", sans-serif' font-weight="bold" fill="#000" text-anchor="end">−250</text>
<line x1="826.5" y1="653" x2="832.5" y2="653" stroke="#000" stroke-width="3.6"/>
<line x1="826.5" y1="711.8" x2="832.5" y2="711.8" stroke="#000" stroke-width="3.6"/>
<line x1="826.5" y1="770.6" x2="832.5" y2="770.6" stroke="#000" stroke-width="3.6"/>
<line x1="826.5" y1="829.4" x2="832.5" y2="829.4" stroke="#000" stroke-width="3.6"/>
<line x1="826.5" y1="888.2" x2="832.5" y2="888.2" stroke="#000" stroke-width="3.6"/>
<line x1="826.5" y1="947" x2="832.5" y2="947" stroke="#000" stroke-width="3.6"/>
<line x1="826.5" y1="1005.8" x2="832.5" y2="1005.8" stroke="#000" stroke-width="3.6"/>
<line x1="826.5" y1="1064.6" x2="832.5" y2="1064.6" stroke="#000" stroke-width="3.6"/>
<line x1="832" y1="1094.5" x2="832" y2="1104.8" stroke="#000" stroke-width="3.6"/>
<text x="832" y="1127.5" font-size="21" font-family='"Liberation Sans", sans-serif' font-weight="bold" fill="#000" text-anchor="middle" textLength="35" lengthAdjust="spacingAndGlyphs">-0.8</text>
<line x1="906.81" y1="1094.5" x2="906.81" y2="1104.8" stroke="#000" stroke-width="3.6"/>
<text x="906.81" y="1127.5" font-size="21" font-family='"Liberation Sans", sans-serif' font-weight="bold" fill="#000" text-anchor="middle" textLength="35" lengthAdjust="spacingAndGlyphs">-0.6</text>
<line x1="981.63" y1="1094.5" x2="981.63" y2="1104.8" stroke="#000" stroke-width="3.6"/>
<text x="981.63" y="1127.5" font-size="21" font-family='"Liberation Sans", sans-serif' font-weight="bold" fill="#000" text-anchor="middle" textLength="35" lengthAdjust="spacingAndGlyphs">-0.4</text>
<line x1="1056.44" y1="1094.5" x2="1056.44" y2="1104.8" stroke="#000" stroke-width="3.6"/>
<text x="1056.44" y="1127.5" font-size="21" font-family='"Liberation Sans", sans-serif' font-weight="bold" fill="#000" text-anchor="middle" textLength="35" lengthAdjust="spacingAndGlyphs">-0.2</text>
<line x1="1131.25" y1="1094.5" x2="1131.25" y2="1104.8" stroke="#000" stroke-width="3.6"/>
<text x="1131.25" y="1127.5" font-size="21" font-family='"Liberation Sans", sans-serif' font-weight="bold" fill="#000" text-anchor="middle" textLength="26" lengthAdjust="spacingAndGlyphs">0.0</text>
<line x1="1206.06" y1="1094.5" x2="1206.06" y2="1104.8" stroke="#000" stroke-width="3.6"/>
<text x="1206.06" y="1127.5" font-size="21" font-family='"Liberation Sans", sans-serif' font-weight="bold" fill="#000" text-anchor="middle" textLength="26" lengthAdjust="spacingAndGlyphs">0.2</text>
<line x1="1280.87" y1="1094.5" x2="1280.87" y2="1104.8" stroke="#000" stroke-width="3.6"/>
<text x="1280.87" y="1127.5" font-size="21" font-family='"Liberation Sans", sans-serif' font-weight="bold" fill="#000" text-anchor="middle" textLength="26" lengthAdjust="spacingAndGlyphs">0.4</text>
<line x1="1355.69" y1="1094.5" x2="1355.69" y2="1104.8" stroke="#000" stroke-width="3.6"/>
<text x="1355.69" y="1127.5" font-size="21" font-family='"Liberation Sans", sans-serif' font-weight="bold" fill="#000" text-anchor="middle" textLength="26" lengthAdjust="spacingAndGlyphs">0.6</text>
<line x1="1430.5" y1="1094.5" x2="1430.5" y2="1104.8" stroke="#000" stroke-width="3.6"/>
<text x="1430.5" y="1127.5" font-size="21" font-family='"Liberation Sans", sans-serif' font-weight="bold" fill="#000" text-anchor="middle" textLength="26" lengthAdjust="spacingAndGlyphs">0.8</text>
<line x1="869.41" y1="1094.5" x2="869.41" y2="1101" stroke="#000" stroke-width="3.6"/>
<line x1="944.22" y1="1094.5" x2="944.22" y2="1101" stroke="#000" stroke-width="3.6"/>
<line x1="1019.03" y1="1094.5" x2="1019.03" y2="1101" stroke="#000" stroke-width="3.6"/>
<line x1="1093.84" y1="1094.5" x2="1093.84" y2="1101" stroke="#000" stroke-width="3.6"/>
<line x1="1168.66" y1="1094.5" x2="1168.66" y2="1101" stroke="#000" stroke-width="3.6"/>
<line x1="1243.47" y1="1094.5" x2="1243.47" y2="1101" stroke="#000" stroke-width="3.6"/>
<line x1="1318.28" y1="1094.5" x2="1318.28" y2="1101" stroke="#000" stroke-width="3.6"/>
<line x1="1393.09" y1="1094.5" x2="1393.09" y2="1101" stroke="#000" stroke-width="3.6"/>
<path d="M1262.17 799.65 L1260.49 817.1 L1259.37 824.89 L1258.24 830.61 L1257.12 834.84 L1255.44 839.29 L1253.75 842.27 L1251.51 844.93 L1248.7 847.13 L1244.22 849.59 L1217.28 861.14 L1206.06 866.16 L1192.6 872.58 L1163.42 886.98 L1153.32 892.26 L1145.46 896.69 L1137.61 901.55 L1130.88 906.22 L1126.39 909.77 L1121.9 913.79 L1117.41 918.32 L1112.92 923.37 L1108.43 928.91 L1102.82 936.46 L1084.87 962.82 L1078.13 971.97 L1074.77 976.03 L1071.4 979.63 L1068.03 982.72 L1064.67 985.23 L1062.42 986.56 L1060.18 987.61 L1057.93 988.04 L1055.69 987.56 L1053.45 986.23 L1051.2 984.15 L1047.83 979.96 L1037.73 964.57 L1034.37 960.01 L1032.12 957.38 L1028.76 954.07 L1025.39 951.53 L1022.02 949.65 L1018.66 948.28 L1014.17 947.12 L1009.68 946.51 L1004.07 946.18 L995.09 946.08 L984.99 946.22 L977.14 946.61 L968.16 947.49 L964.79 947.94 L962.55 948.45 L960.3 949.31 L958.06 950.46 L953.57 953.52 L950.2 956.3 L945.72 960.4 L942.35 963.62 L940.11 966.18 L937.86 969.18 L934.49 974.3 L925.52 989.38 L922.15 994.67 L900.83 1024.7 L888.11 1044.02 L890.21 1001.69 L892.56 960.43 L894.92 924.98 L897.54 891.35 L900.12 863.22 L903.11 835.78 L906.1 812.87 L909.84 789.28 L913.58 769.99 L918.07 750.97 L922.56 735.08 L928.55 717.07 L935.28 699.65 L939.02 691.09 L942.01 684.88 L944.26 680.64 L947.25 675.63 L950.24 671.46 L953.23 668.21 L956.23 665.97 L957.72 665.24 L960.72 664.55 L963.71 664.76 L965.2 665.17 L968.2 666.58 L971.19 668.68 L975.68 672.88 L980.17 677.95 L992.14 692.44 L996.63 697.24 L1001.11 701.38 L1005.6 704.76 L1008.6 706.61 L1011.59 708.14 L1017.57 710.4 L1023.56 711.79 L1031.04 712.69 L1040.02 713.03 L1051.99 712.88 L1066.95 712.2 L1078.92 711.32 L1092.39 709.97 L1129.79 704.98 L1143.26 703.46 L1158.22 702.5 L1173.18 702.52 L1183.66 703.03 L1195.63 704.09 L1206.1 705.45 L1218.07 707.49 L1228.54 709.69 L1240.51 712.69 L1250.99 715.75 L1262.17 719.44" fill="none" stroke="#555555" stroke-width="2.1" stroke-linejoin="round" stroke-linecap="round"/>
<path d="M1262.17 799.65 L1260.49 816.23 L1259.37 823.27 L1258.24 828.26 L1257.12 831.82 L1255.44 835.43 L1253.75 837.78 L1252.07 839.39 L1249.27 841.24 L1244.78 843.37 L1220.65 852.82 L1204.94 858.49 L1178.01 867.39 L1165.66 872.07 L1157.81 875.56 L1151.08 878.93 L1144.34 882.74 L1138.73 886.32 L1133.12 890.33 L1128.63 893.92 L1124.14 897.99 L1118.53 903.79 L1114.04 908.97 L1108.43 916.05 L1091.6 939.18 L1084.87 947.85 L1080.38 952.94 L1077.01 956.28 L1073.64 959.13 L1070.28 961.45 L1066.91 963.2 L1064.67 963.89 L1062.42 963.72 L1061.3 963.31 L1059.06 961.9 L1056.81 959.79 L1054.57 957.13 L1043.35 940.88 L1038.86 935.4 L1036.61 933.17 L1033.25 930.48 L1029.88 928.52 L1026.51 927.17 L1022.02 926.07 L1015.29 925.26 L1008.56 925.02 L997.34 925.06 L983.87 925.6 L979.38 926.39 L973.77 927.98 L963.67 931.9 L959.18 934.52 L955.82 937.05 L952.45 939.96 L947.96 944.26 L942.35 950.01 L938.98 954.04 L935.62 958.63 L922.15 978.5 L900.83 1005.93 L888.11 1022.97 L890.21 982.49 L892.56 943.38 L894.92 910.09 L897.28 881.7 L900.12 852.89 L903.11 827.83 L906.1 807.1 L909.1 789.78 L912.84 771.85 L917.33 754.29 L921.81 739.68 L927.8 723.17 L930.79 715.8 L934.53 707.3 L937.52 701.07 L940.52 695.4 L943.51 690.37 L945.75 687.08 L948.75 683.41 L951.74 680.64 L954.73 678.84 L956.23 678.31 L959.22 677.93 L962.21 678.29 L963.71 678.72 L966.7 680.07 L969.69 682 L974.18 685.76 L978.67 690.27 L989.14 701.8 L993.63 706.44 L998.12 710.61 L1002.61 714.19 L1007.1 717.14 L1013.08 720.13 L1019.07 722.18 L1025.05 723.48 L1032.54 724.37 L1041.51 724.76 L1053.48 724.68 L1066.95 724.17 L1078.92 723.42 L1092.39 722.27 L1129.79 718.01 L1143.26 716.71 L1158.22 715.89 L1173.18 715.9 L1183.66 716.3 L1195.63 717.14 L1206.1 718.2 L1218.07 719.8 L1228.54 721.54 L1240.51 723.9 L1250.99 726.3 L1262.17 729.2" fill="none" stroke="#1a8a8a" stroke-width="2.1" stroke-linejoin="round" stroke-linecap="round"/>
<path d="M1262.17 799.65 L1260.49 815.77 L1258.8 824.56 L1257.68 828.13 L1256.56 830.6 L1254.88 833.03 L1253.19 834.58 L1251.51 835.67 L1248.7 837 L1239.73 840.25 L1213.92 848.99 L1181.37 859.27 L1169.03 863.56 L1162.3 866.28 L1155.56 869.35 L1149.95 872.23 L1144.34 875.45 L1138.73 879.06 L1133.12 883.1 L1127.51 887.66 L1123.02 891.8 L1118.53 896.37 L1112.92 902.63 L1094.97 924.6 L1088.23 932.26 L1083.74 936.73 L1080.38 939.63 L1077.01 942.08 L1073.64 944.05 L1070.28 945.49 L1068.03 946.04 L1065.79 945.78 L1064.67 945.34 L1062.42 943.87 L1060.18 941.72 L1057.93 939.03 L1046.71 922.71 L1042.22 917.19 L1039.98 914.94 L1036.61 912.24 L1034.37 910.86 L1031 909.35 L1027.64 908.38 L1023.15 907.67 L1017.54 907.33 L1010.8 907.26 L996.21 907.5 L986.11 907.96 L981.63 908.55 L977.14 909.57 L972.65 910.94 L967.04 912.99 L963.67 914.35 L960.3 916.11 L956.94 918.3 L953.57 920.83 L949.08 924.62 L943.47 929.72 L940.11 933.11 L936.74 937.03 L925.52 951.66 L919.91 958.44 L909.81 969.78 L888.11 993.45 L890.21 955.9 L892.3 923.7 L894.4 896.06 L896.75 869.57 L899.11 847.15 L901.61 827.01 L904.61 806.98 L907.6 790.41 L911.34 773.4 L915.08 759.39 L917.33 752.06 L920.32 743.24 L925.55 729.83 L928.55 723.09 L931.54 716.95 L934.53 711.43 L936.78 707.72 L939.77 703.4 L942.01 700.66 L944.26 698.39 L947.25 696.12 L950.24 694.77 L951.74 694.44 L954.73 694.3 L957.72 694.74 L962.21 696.39 L965.2 698.08 L969.69 701.31 L974.18 705.14 L989.14 719.02 L995.13 723.85 L999.62 726.93 L1005.6 730.26 L1011.59 732.73 L1017.57 734.46 L1025.05 735.8 L1032.54 736.5 L1043.01 736.84 L1054.98 736.72 L1068.45 736.23 L1080.42 735.54 L1093.88 734.48 L1129.79 730.82 L1143.26 729.66 L1156.72 728.97 L1171.69 728.9 L1182.16 729.17 L1194.13 729.76 L1204.6 730.54 L1216.57 731.71 L1227.05 732.98 L1239.02 734.72 L1250.99 736.77 L1262.17 738.97" fill="none" stroke="#84841c" stroke-width="2.1" stroke-linejoin="round" stroke-linecap="round"/>
<path d="M1262.17 799.65 L1261.61 805.92 L1260.49 815.03 L1258.8 823.11 L1257.68 826.31 L1256.56 828.48 L1255.44 830 L1253.75 831.55 L1251.51 832.9 L1248.14 834.34 L1227.38 841.5 L1208.31 847.76 L1181.37 856 L1171.27 859.43 L1165.66 861.6 L1160.05 864.05 L1149.95 869.27 L1144.34 872.66 L1138.73 876.43 L1133.12 880.62 L1127.51 885.25 L1123.02 889.37 L1117.41 894.99 L1099.45 914.66 L1092.72 921.47 L1089.36 924.49 L1085.99 927.16 L1082.62 929.44 L1079.26 931.29 L1075.89 932.66 L1072.52 933.47 L1070.28 933.18 L1069.16 932.74 L1066.91 931.31 L1064.67 929.24 L1062.42 926.65 L1051.2 910.9 L1046.71 905.55 L1044.47 903.36 L1041.1 900.73 L1038.86 899.39 L1035.49 897.93 L1032.12 897.01 L1028.76 896.5 L1020.9 896.2 L990.6 897.04 L984.99 897.47 L980.5 898.39 L977.14 899.46 L972.65 901.24 L962.55 906.12 L956.94 909.89 L950.2 915.49 L942.35 922.78 L938.98 926.28 L924.39 943.78 L915.42 953.6 L899.71 969.74 L888.11 981.1 L889.94 948.98 L892.04 917.35 L894.13 890.33 L896.23 867.21 L898.58 845.1 L900.87 826.95 L903.86 807.08 L906.85 790.72 L910.59 773.99 L914.33 760.29 L918.82 746.64 L923.31 735.15 L926.3 728.42 L929.3 722.37 L932.29 716.99 L934.53 713.4 L937.52 709.27 L939.77 706.68 L942.01 704.56 L944.26 702.94 L947.25 701.55 L948.75 701.19 L951.74 700.99 L953.23 701.09 L956.23 701.69 L960.72 703.48 L963.71 705.19 L968.2 708.35 L972.69 712.02 L987.65 725.07 L993.63 729.59 L998.12 732.48 L1004.11 735.62 L1010.09 737.97 L1016.08 739.64 L1023.56 740.96 L1031.04 741.67 L1041.51 742.05 L1053.48 741.99 L1066.95 741.58 L1092.39 740.06 L1129.79 736.63 L1143.26 735.58 L1156.72 734.96 L1171.69 734.89 L1182.16 735.14 L1194.13 735.68 L1204.6 736.38 L1216.57 737.44 L1227.05 738.59 L1239.02 740.17 L1250.99 742.03 L1262.17 744.02" fill="none" stroke="#7e1e1e" stroke-width="2.1" stroke-linejoin="round" stroke-linecap="round"/>
<path d="M1262.17 799.65 L1261.05 810.77 L1260.49 814.65 L1259.37 820.17 L1258.24 823.69 L1257.12 825.99 L1255.44 828.12 L1253.75 829.43 L1251.51 830.59 L1247.58 832.09 L1217.28 842.11 L1204.94 845.71 L1181.37 851.89 L1172.4 854.61 L1163.42 857.99 L1154.44 862.25 L1148.83 865.4 L1143.22 868.93 L1137.61 872.85 L1132 877.14 L1127.51 880.86 L1121.9 885.93 L1103.94 903.77 L1097.21 910.03 L1092.72 913.69 L1089.36 916.08 L1085.99 918.11 L1082.62 919.74 L1079.26 920.94 L1075.89 921.6 L1073.64 921.25 L1072.52 920.8 L1070.28 919.4 L1068.03 917.42 L1065.79 914.96 L1055.69 901.69 L1052.32 897.7 L1050.08 895.38 L1047.83 893.39 L1044.47 891 L1042.22 889.8 L1038.86 888.5 L1036.61 887.92 L1033.25 887.4 L1029.88 887.17 L1025.39 887.15 L991.73 888.4 L984.99 888.92 L980.5 889.7 L972.65 892 L962.55 896.01 L956.94 899.23 L950.2 904.09 L942.35 910.49 L938.98 913.62 L923.27 930.75 L910.93 942.71 L899.71 952.81 L888.11 962.29 L889.94 932 L891.78 905.82 L893.87 880.19 L895.97 858.4 L898.32 837.7 L900.87 819.06 L903.11 805.18 L906.1 789.66 L909.1 776.79 L912.84 763.44 L917.33 750.32 L921.81 739.41 L927.05 728.83 L930.04 723.72 L932.29 720.35 L935.28 716.49 L937.52 714.1 L939.77 712.17 L942.01 710.71 L943.51 710.01 L945.75 709.35 L948.75 709.1 L953.23 709.64 L957.72 711.18 L962.21 713.55 L966.7 716.56 L986.15 732.11 L992.14 736.31 L996.63 739.02 L1002.61 742 L1008.6 744.26 L1016.08 746.22 L1023.56 747.41 L1031.04 748.07 L1041.51 748.42 L1053.48 748.38 L1068.45 747.95 L1093.88 746.49 L1141.76 742.56 L1155.23 741.93 L1168.69 741.8 L1191.14 742.31 L1215.08 743.7 L1239.02 745.95 L1262.17 748.96" fill="none" stroke="#7d1a7d" stroke-width="2.1" stroke-linejoin="round" stroke-linecap="round"/>
<path d="M1262.17 799.65 L1261.05 810.62 L1260.49 814.33 L1259.37 819.46 L1258.24 822.61 L1257.12 824.6 L1256 825.9 L1254.32 827.14 L1252.07 828.19 L1248.7 829.3 L1222.89 836.69 L1179.13 848.22 L1169.03 851.54 L1161.17 854.83 L1155.56 857.63 L1151.08 860.15 L1140.98 866.67 L1128.63 875.96 L1110.68 891.17 L1103.94 896.52 L1097.21 901.07 L1093.84 902.94 L1090.48 904.47 L1085.99 905.97 L1082.62 906.63 L1080.38 906.5 L1079.26 906.2 L1077.01 905.13 L1074.77 903.52 L1072.52 901.46 L1069.16 897.79 L1061.3 888.56 L1057.93 885.1 L1055.69 883.11 L1053.45 881.4 L1050.08 879.37 L1047.83 878.36 L1044.47 877.29 L1038.86 876.42 L1031 876.34 L1014.17 877.31 L992.85 878.21 L986.11 878.75 L982.75 879.34 L979.38 880.3 L974.89 882.02 L964.79 886.88 L960.3 889.45 L954.69 893.41 L947.96 898.86 L940.11 905.66 L923.27 922.7 L910.93 933.94 L899.71 943.29 L888.11 951.7 L889.94 922.28 L891.78 897.03 L893.61 875.34 L895.7 854.22 L897.8 836.35 L900.12 819.7 L902.36 806.12 L905.36 791.09 L908.35 778.77 L912.09 766.15 L915.83 755.77 L920.32 745.41 L924.81 736.78 L927.8 731.87 L930.04 728.62 L933.04 724.89 L935.28 722.55 L937.52 720.64 L939.77 719.16 L942.01 718.13 L943.51 717.69 L947.25 717.33 L951.74 717.82 L956.23 719.2 L960.72 721.31 L965.2 723.99 L969.69 727.08 L986.15 739.11 L992.14 742.88 L996.63 745.32 L1002.61 748.01 L1008.6 750.07 L1016.08 751.86 L1023.56 752.98 L1031.04 753.61 L1041.51 753.96 L1053.48 753.93 L1066.95 753.59 L1092.39 752.28 L1143.26 748.42 L1156.72 747.88 L1168.69 747.8 L1191.14 748.27 L1215.08 749.57 L1239.02 751.68 L1262.17 754.49" fill="none" stroke="#7f35e6" stroke-width="2.1" stroke-linejoin="round" stroke-linecap="round"/>
<path d="M1262.17 799.65 L1261.05 810.18 L1260.49 813.61 L1259.37 818.19 L1258.8 819.72 L1257.68 821.81 L1256.56 823.1 L1254.88 824.27 L1252.63 825.21 L1248.14 826.49 L1184.74 842.57 L1172.4 846.37 L1163.42 849.86 L1154.44 854.29 L1149.95 856.86 L1144.34 860.39 L1138.73 864.24 L1130.88 870.01 L1112.92 884.26 L1106.19 889.25 L1099.45 893.47 L1096.09 895.18 L1092.72 896.59 L1088.23 897.93 L1084.87 898.51 L1082.62 898.41 L1081.5 898.12 L1079.26 897.09 L1077.01 895.51 L1073.64 892.34 L1063.55 880.52 L1060.18 876.97 L1057.93 874.91 L1055.69 873.13 L1052.32 871 L1048.96 869.46 L1045.59 868.45 L1039.98 867.62 L1032.12 867.54 L1014.17 868.6 L993.97 869.54 L987.24 870.08 L983.87 870.58 L978.26 872.28 L972.65 874.75 L962.55 880 L956.94 883.66 L951.33 887.91 L941.23 896.16 L923.27 912.85 L909.81 924.13 L904.2 928.46 L899.71 931.65 L888.11 938.77 L889.68 914.28 L891.51 889.73 L893.35 868.85 L895.18 851.06 L897.28 833.87 L899.37 819.44 L901.61 806.47 L904.61 792.33 L907.6 780.93 L910.59 771.56 L914.33 761.92 L918.82 752.5 L923.31 744.8 L925.55 741.49 L928.55 737.6 L931.54 734.32 L933.78 732.27 L936.03 730.6 L938.27 729.3 L940.52 728.39 L942.01 728 L945.75 727.68 L950.24 728.08 L954.73 729.21 L959.22 730.96 L963.71 733.2 L969.69 736.71 L986.15 746.97 L992.14 750.18 L996.63 752.27 L1002.61 754.58 L1010.09 756.73 L1017.57 758.18 L1025.05 759.08 L1034.03 759.65 L1043.01 759.85 L1054.98 759.78 L1069.94 759.36 L1093.88 758.06 L1141.76 754.38 L1153.73 753.84 L1165.7 753.67 L1189.64 754.04 L1213.58 755.11 L1237.52 756.88 L1262.17 759.43" fill="none" stroke="#1b1b6b" stroke-width="2.1" stroke-linejoin="round" stroke-linecap="round"/>
<path d="M1262.17 799.65 L1261.05 808.79 L1259.93 813.74 L1259.37 815.31 L1258.24 817.38 L1257.12 818.59 L1255.44 819.64 L1250.39 821.22 L1209.43 830.97 L1192.6 835.28 L1176.89 839.86 L1165.66 843.84 L1156.69 847.87 L1146.59 853.38 L1136.49 859.69 L1116.29 873.06 L1109.55 877.14 L1102.82 880.55 L1097.21 882.68 L1092.72 883.82 L1088.23 884.43 L1085.99 884.25 L1082.62 882.98 L1080.38 881.55 L1077.01 878.72 L1066.91 868.41 L1063.55 865.33 L1061.3 863.55 L1059.06 862.01 L1055.69 860.17 L1052.32 858.84 L1048.96 857.95 L1045.59 857.42 L1042.22 857.15 L1034.37 857.16 L996.21 859.26 L984.99 860.33 L980.5 861.43 L974.89 863.57 L963.67 868.97 L959.18 871.54 L952.45 876.09 L942.35 883.56 L937.86 887.1 L924.39 898.36 L908.68 910 L904.2 912.96 L899.71 915.57 L888.11 920.89 L891.25 877.98 L893.09 858.26 L894.92 841.63 L897.01 825.73 L899.11 812.53 L901.61 799.54 L903.86 789.95 L906.85 779.45 L909.84 770.93 L912.84 763.88 L916.58 756.6 L920.32 750.65 L924.81 744.98 L927.05 742.69 L929.3 740.77 L931.54 739.22 L933.78 738.03 L937.52 736.88 L941.26 736.61 L945.75 736.98 L950.24 737.99 L954.73 739.54 L959.22 741.52 L965.2 744.61 L981.66 753.74 L987.65 756.65 L993.63 759.13 L999.62 761.16 L1007.1 763.06 L1014.58 764.35 L1023.56 765.28 L1032.54 765.74 L1044.51 765.91 L1057.97 765.73 L1071.44 765.3 L1095.38 763.95 L1140.26 760.47 L1152.23 759.89 L1162.71 759.67 L1186.65 759.85 L1212.08 760.55 L1237.52 761.76 L1262.17 763.43" fill="none" stroke="#238b23" stroke-width="2.1" stroke-linejoin="round" stroke-linecap="round"/>
<path d="M1262.17 799.65 L1261.05 807.7 L1259.93 811.81 L1259.37 813.06 L1258.24 814.65 L1257.12 815.55 L1256 816.11 L1251.51 817.35 L1216.16 824.72 L1199.33 828.5 L1183.62 832.59 L1170.15 836.82 L1161.17 840.33 L1152.2 844.6 L1144.34 848.85 L1124.14 860.43 L1115.17 865.06 L1107.31 868.29 L1102.82 869.64 L1099.45 870.38 L1094.97 870.97 L1092.72 870.98 L1090.48 870.52 L1088.23 869.64 L1085.99 868.38 L1083.74 866.82 L1072.52 857.27 L1066.91 853.27 L1064.67 852.02 L1061.3 850.52 L1057.93 849.45 L1054.57 848.75 L1051.2 848.34 L1046.71 848.12 L1034.37 848.46 L993.97 850.93 L986.11 851.73 L981.63 852.66 L977.14 854.13 L971.53 856.48 L962.55 860.67 L956.94 863.84 L941.23 874.28 L923.27 887.51 L912.05 894.98 L906.44 898.4 L901.95 900.73 L898.58 902.14 L888.11 905.49 L890.99 868.19 L892.56 852.05 L894.4 836.19 L896.23 822.98 L898.06 811.91 L900.12 801.56 L902.36 792.26 L904.61 784.59 L907.6 776.28 L910.59 769.61 L914.33 762.96 L918.07 757.7 L920.32 755.09 L922.56 752.84 L926.3 749.85 L928.55 748.5 L930.79 747.48 L934.53 746.49 L939.02 746.27 L943.51 746.65 L948.75 747.75 L953.23 749.14 L957.72 750.86 L980.17 761.04 L986.15 763.43 L992.14 765.47 L998.12 767.14 L1005.6 768.72 L1013.08 769.8 L1022.06 770.59 L1031.04 770.99 L1043.01 771.15 L1069.94 770.66 L1093.88 769.52 L1140.26 766.37 L1152.23 765.86 L1162.71 765.67 L1186.65 765.84 L1212.08 766.52 L1237.52 767.69 L1262.17 769.31" fill="none" stroke="#ee2aee" stroke-width="2.1" stroke-linejoin="round" stroke-linecap="round"/>
<path d="M1262.17 799.65 L1261.05 807.08 L1259.93 810.52 L1258.8 812.17 L1257.68 813.02 L1256.56 813.5 L1252.63 814.39 L1221.77 819.62 L1206.06 822.53 L1192.6 825.55 L1179.13 829.15 L1167.91 832.72 L1158.93 836.21 L1149.95 840.28 L1132 849.04 L1121.9 853.39 L1117.41 855.05 L1112.92 856.44 L1108.43 857.54 L1105.07 858.14 L1101.7 858.53 L1098.33 858.66 L1096.09 858.35 L1093.84 857.67 L1091.6 856.67 L1088.23 854.68 L1077.01 846.58 L1071.4 843.28 L1068.03 841.8 L1064.67 840.7 L1061.3 839.93 L1057.93 839.44 L1053.45 839.1 L1047.83 839.01 L1028.76 839.7 L997.34 841.57 L987.24 842.57 L982.75 843.36 L978.26 844.69 L972.65 846.85 L963.67 850.77 L958.06 853.61 L941.23 863.7 L924.39 874.57 L912.05 881.78 L907.56 884.18 L903.07 886.14 L899.71 887.2 L888.11 889.38 L890.73 857.21 L892.3 842.21 L893.87 829.73 L895.7 817.77 L897.54 808.04 L899.37 800.08 L901.61 792.2 L903.86 785.9 L906.85 779.29 L909.84 774.14 L912.84 770.01 L916.58 765.87 L921.07 762.06 L924.81 759.69 L929.3 757.77 L933.04 756.92 L936.78 756.72 L942.01 757.02 L947.25 757.86 L951.74 758.93 L957.72 760.76 L980.17 769.03 L986.15 770.99 L992.14 772.69 L999.62 774.4 L1007.1 775.66 L1014.58 776.53 L1023.56 777.17 L1034.03 777.52 L1046 777.58 L1072.93 776.94 L1095.38 775.72 L1138.77 772.51 L1150.74 771.92 L1161.21 771.68 L1186.65 771.8 L1212.08 772.32 L1237.52 773.23 L1262.17 774.48" fill="none" stroke="#2222bb" stroke-width="2.1" stroke-linejoin="round" stroke-linecap="round"/>
<path d="M1262.17 799.65 L1261.61 803.08 L1261.05 805.19 L1260.49 806.49 L1259.37 807.83 L1258.24 808.39 L1254.32 809.02 L1225.14 811.61 L1212.8 812.94 L1203.82 814.28 L1193.72 816.42 L1179.13 820.22 L1162.3 825.08 L1152.2 828.7 L1132 836.94 L1123.02 840.31 L1115.17 842.77 L1107.31 844.48 L1102.82 845.05 L1098.33 845.28 L1096.09 845.1 L1092.72 844.17 L1090.48 843.16 L1087.11 841.18 L1077.01 833.99 L1071.4 830.55 L1065.79 828.08 L1062.42 827.07 L1059.06 826.37 L1052.32 825.62 L1043.35 825.4 L1024.27 825.81 L1008.56 826.54 L995.09 827.69 L983.87 829.08 L976.02 830.81 L963.67 834.45 L958.06 836.44 L951.33 839.18 L940.11 844.05 L925.52 851 L910.93 857.16 L906.44 858.71 L903.07 859.45 L899.71 859.68 L888.11 858.8 L889.94 835.32 L890.99 825.29 L892.3 815.35 L893.61 807.64 L894.92 801.65 L896.49 796.15 L898.32 791.41 L900.12 787.99 L902.36 784.85 L904.61 782.51 L907.6 780.13 L912.09 777.4 L917.33 774.88 L922.56 772.91 L927.05 771.74 L930.79 771.2 L934.53 771.08 L939.77 771.31 L945.75 771.97 L956.23 773.97 L981.66 780.53 L993.63 783.05 L1001.11 784.23 L1008.6 785.11 L1016.08 785.71 L1025.05 786.15 L1035.53 786.38 L1047.5 786.37 L1074.43 785.64 L1095.38 784.42 L1138.77 781.03 L1150.74 780.4 L1161.21 780.15 L1186.65 780.28 L1212.08 780.84 L1237.52 781.83 L1262.17 783.18" fill="none" stroke="#111111" stroke-width="2.1" stroke-linejoin="round" stroke-linecap="round"/>
<path d="M1262.17 799.65 L1261.61 802.89 L1261.05 804.88 L1260.49 806.11 L1259.37 807.35 L1257.68 808.02 L1252.07 808.66 L1220.65 811.29 L1206.06 813 L1195.96 814.87 L1174.64 819.65 L1142.1 826.32 L1132 828.11 L1121.9 829.44 L1110.68 830.27 L1107.31 830.33 L1103.94 830.14 L1098.33 829.28 L1085.99 826.53 L1080.38 825.54 L1072.52 824.71 L1063.55 824.41 L1042.22 824.76 L1016.41 825.77 L999.58 826.93 L984.99 828.55 L979.38 829.64 L973.77 831.08 L963.67 834.1 L958.06 836.09 L941.23 843.15 L925.52 850.56 L912.05 856.21 L907.56 857.86 L904.2 858.73 L900.83 859.14 L896.34 859 L888.11 858.21 L889.68 834.75 L890.73 823.34 L891.78 814.43 L892.82 807.45 L894.13 800.8 L895.7 795.02 L897.28 790.91 L898.85 787.92 L900.87 785.16 L903.11 782.97 L906.1 780.83 L911.34 778.01 L917.33 775.36 L922.56 773.49 L927.05 772.34 L930.79 771.79 L934.53 771.66 L939.77 771.88 L945.75 772.52 L956.23 774.47 L981.66 780.92 L993.63 783.42 L1001.11 784.58 L1008.6 785.45 L1016.08 786.06 L1025.05 786.5 L1035.53 786.73 L1047.5 786.73 L1074.43 785.99 L1095.38 784.77 L1138.77 781.38 L1150.74 780.76 L1161.21 780.5 L1186.65 780.63 L1212.08 781.2 L1237.52 782.18 L1262.17 783.54" fill="none" stroke="#e32222" stroke-width="2.1" stroke-linejoin="round" stroke-linecap="round"/>
<line x1="832.3" y1="621.5" x2="832.3" y2="1096.4" stroke="#000" stroke-width="3.9"/>
<line x1="830.4" y1="1094.5" x2="1430.7" y2="1094.5" stroke="#000" stroke-width="3.9"/>
<text x="1133.4" y="1167.6" font-size="23.6" font-family='"Liberation Serif", serif' font-weight="bold" fill="#000" text-anchor="middle" textLength="122.6" lengthAdjust="spacingAndGlyphs">Potential (V)</text>
<text x="757.4" y="871" font-size="24" font-family='"Liberation Serif", serif' font-weight="bold" fill="#000" text-anchor="middle" textLength="139.3" lengthAdjust="spacingAndGlyphs" transform="rotate(-90 757.4 871)">Current (µA)</text>
<line x1="1279.6" y1="628.2" x2="1318.8" y2="628.2" stroke="#e32222" stroke-width="2.6"/>
<text x="1323.1" y="634.6" font-size="19.5" font-family='"Liberation Serif", serif' font-weight="bold" fill="#000">20</text>
<line x1="1279.6" y1="653.1" x2="1318.8" y2="653.1" stroke="#111111" stroke-width="2.6"/>
<text x="1323.1" y="659.5" font-size="19.5" font-family='"Liberation Serif", serif' font-weight="bold" fill="#000">40</text>
<line x1="1279.6" y1="678" x2="1318.8" y2="678" stroke="#2222bb" stroke-width="2.6"/>
<text x="1323.1" y="684.4" font-size="19.5" font-family='"Liberation Serif", serif' font-weight="bold" fill="#000">60</text>
<line x1="1279.6" y1="702.9" x2="1318.8" y2="702.9" stroke="#ee2aee" stroke-width="2.6"/>
<text x="1323.1" y="709.3" font-size="19.5" font-family='"Liberation Serif", serif' font-weight="bold" fill="#000">80</text>
<line x1="1279.6" y1="727.8" x2="1318.8" y2="727.8" stroke="#238b23" stroke-width="2.6"/>
<text x="1323.1" y="734.2" font-size="19.5" font-family='"Liberation Serif", serif' font-weight="bold" fill="#000">100</text>
<line x1="1279.6" y1="752.7" x2="1318.8" y2="752.7" stroke="#1b1b6b" stroke-width="2.6"/>
<text x="1323.1" y="759.1" font-size="19.5" font-family='"Liberation Serif", serif' font-weight="bold" fill="#000">120</text>
<line x1="1368.8" y1="628.2" x2="1408" y2="628.2" stroke="#7f35e6" stroke-width="2.6"/>
<text x="1412.3" y="634.6" font-size="19.5" font-family='"Liberation Serif", serif' font-weight="bold" fill="#000">140</text>
<line x1="1368.8" y1="653.1" x2="1408" y2="653.1" stroke="#7d1a7d" stroke-width="2.6"/>
<text x="1412.3" y="659.5" font-size="19.5" font-family='"Liberation Serif", serif' font-weight="bold" fill="#000">160</text>
<line x1="1368.8" y1="678" x2="1408" y2="678" stroke="#7e1e1e" stroke-width="2.6"/>
<text x="1412.3" y="684.4" font-size="19.5" font-family='"Liberation Serif", serif' font-weight="bold" fill="#000">180</text>
<line x1="1368.8" y1="702.9" x2="1408" y2="702.9" stroke="#84841c" stroke-width="2.6"/>
<text x="1412.3" y="709.3" font-size="19.5" font-family='"Liberation Serif", serif' font-weight="bold" fill="#000">200</text>
<line x1="1368.8" y1="727.8" x2="1408" y2="727.8" stroke="#1a8a8a" stroke-width="2.6"/>
<text x="1412.3" y="734.2" font-size="19.5" font-family='"Liberation Serif", serif' font-weight="bold" fill="#000">220</text>
<line x1="1368.8" y1="752.7" x2="1408" y2="752.7" stroke="#555555" stroke-width="2.6"/>
<text x="1412.3" y="759.1" font-size="19.5" font-family='"Liberation Serif", serif' font-weight="bold" fill="#000">240</text>
<text x="843.2" y="1081" font-size="38.5" font-family='"Liberation Sans", sans-serif' font-weight="bold" fill="#000" textLength="49.3" lengthAdjust="spacingAndGlyphs">(d)</text>
<line x1="1206" y1="885.8" x2="1206" y2="1058.8" stroke="#333" stroke-width="2"/>
<line x1="1205" y1="1058" x2="1424.8" y2="1058" stroke="#333" stroke-width="2"/>
<line x1="1203" y1="1043" x2="1206.25" y2="1043" stroke="#333" stroke-width="1.2"/>
<text x="1201.5" y="1045.4" font-size="6.8" font-family='"Liberation Serif", serif' font-weight="bold" fill="#444" text-anchor="end">5</text>
<line x1="1203" y1="1017.6" x2="1206.25" y2="1017.6" stroke="#333" stroke-width="1.2"/>
<text x="1201.5" y="1020" font-size="6.8" font-family='"Liberation Serif", serif' font-weight="bold" fill="#444" text-anchor="end">10</text>
<line x1="1203" y1="992.2" x2="1206.25" y2="992.2" stroke="#333" stroke-width="1.2"/>
<text x="1201.5" y="994.6" font-size="6.8" font-family='"Liberation Serif", serif' font-weight="bold" fill="#444" text-anchor="end">15</text>
<line x1="1203" y1="966.8" x2="1206.25" y2="966.8" stroke="#333" stroke-width="1.2"/>
<text x="1201.5" y="969.2" font-size="6.8" font-family='"Liberation Serif", serif' font-weight="bold" fill="#444" text-anchor="end">20</text>
<line x1="1203" y1="941.4" x2="1206.25" y2="941.4" stroke="#333" stroke-width="1.2"/>
<text x="1201.5" y="943.8" font-size="6.8" font-family='"Liberation Serif", serif' font-weight="bold" fill="#444" text-anchor="end">25</text>
<line x1="1203" y1="916" x2="1206.25" y2="916" stroke="#333" stroke-width="1.2"/>
<text x="1201.5" y="918.4" font-size="6.8" font-family='"Liberation Serif", serif' font-weight="bold" fill="#444" text-anchor="end">30</text>
<line x1="1203" y1="890.6" x2="1206.25" y2="890.6" stroke="#333" stroke-width="1.2"/>
<text x="1201.5" y="893" font-size="6.8" font-family='"Liberation Serif", serif' font-weight="bold" fill="#444" text-anchor="end">35</text>
<line x1="1204.3" y1="1055.7" x2="1206.25" y2="1055.7" stroke="#333" stroke-width="1"/>
<line x1="1204.3" y1="1030.3" x2="1206.25" y2="1030.3" stroke="#333" stroke-width="1"/>
<line x1="1204.3" y1="1004.9" x2="1206.25" y2="1004.9" stroke="#333" stroke-width="1"/>
<line x1="1204.3" y1="979.5" x2="1206.25" y2="979.5" stroke="#333" stroke-width="1"/>
<line x1="1204.3" y1="954.1" x2="1206.25" y2="954.1" stroke="#333" stroke-width="1"/>
<line x1="1204.3" y1="928.7" x2="1206.25" y2="928.7" stroke="#333" stroke-width="1"/>
<line x1="1204.3" y1="903.3" x2="1206.25" y2="903.3" stroke="#333" stroke-width="1"/>
<line x1="1206.25" y1="1058" x2="1206.25" y2="1061.2" stroke="#333" stroke-width="1.2"/>
<text x="1206.25" y="1070.5" font-size="6.8" font-family='"Liberation Serif", serif' font-weight="bold" fill="#444" text-anchor="middle">0</text>
<line x1="1242.63" y1="1058" x2="1242.63" y2="1061.2" stroke="#333" stroke-width="1.2"/>
<text x="1242.63" y="1070.5" font-size="6.8" font-family='"Liberation Serif", serif' font-weight="bold" fill="#444" text-anchor="middle">40</text>
<line x1="1279" y1="1058" x2="1279" y2="1061.2" stroke="#333" stroke-width="1.2"/>
<text x="1279" y="1070.5" font-size="6.8" font-family='"Liberation Serif", serif' font-weight="bold" fill="#444" text-anchor="middle">80</text>
<line x1="1315.38" y1="1058" x2="1315.38" y2="1061.2" stroke="#333" stroke-width="1.2"/>
<text x="1315.38" y="1070.5" font-size="6.8" font-family='"Liberation Serif", serif' font-weight="bold" fill="#444" text-anchor="middle">120</text>
<line x1="1351.75" y1="1058" x2="1351.75" y2="1061.2" stroke="#333" stroke-width="1.2"/>
<text x="1351.75" y="1070.5" font-size="6.8" font-family='"Liberation Serif", serif' font-weight="bold" fill="#444" text-anchor="middle">160</text>
<line x1="1388.13" y1="1058" x2="1388.13" y2="1061.2" stroke="#333" stroke-width="1.2"/>
<text x="1388.13" y="1070.5" font-size="6.8" font-family='"Liberation Serif", serif' font-weight="bold" fill="#444" text-anchor="middle">200</text>
<line x1="1424.51" y1="1058" x2="1424.51" y2="1061.2" stroke="#333" stroke-width="1.2"/>
<text x="1424.51" y="1070.5" font-size="6.8" font-family='"Liberation Serif", serif' font-weight="bold" fill="#444" text-anchor="middle">240</text>
<line x1="1224.44" y1="1058" x2="1224.44" y2="1060.3" stroke="#333" stroke-width="1"/>
<line x1="1260.81" y1="1058" x2="1260.81" y2="1060.3" stroke="#333" stroke-width="1"/>
<line x1="1297.19" y1="1058" x2="1297.19" y2="1060.3" stroke="#333" stroke-width="1"/>
<line x1="1333.57" y1="1058" x2="1333.57" y2="1060.3" stroke="#333" stroke-width="1"/>
<line x1="1369.94" y1="1058" x2="1369.94" y2="1060.3" stroke="#333" stroke-width="1"/>
<line x1="1406.32" y1="1058" x2="1406.32" y2="1060.3" stroke="#333" stroke-width="1"/>
<text x="1315" y="1087.5" font-size="9.6" font-family='"Liberation Serif", serif' font-weight="bold" fill="#333" text-anchor="middle" textLength="35" lengthAdjust="spacingAndGlyphs">v (mV/s)</text>
<text x="1186.2" y="978.5" font-size="10.4" font-family='"Liberation Serif", serif' font-weight="bold" fill="#333" text-anchor="middle" textLength="59" lengthAdjust="spacingAndGlyphs" transform="rotate(-90 1186.2 978.5)">Current (µA)</text>
<line x1="1215.34" y1="1045.53" x2="1406.32" y2="895.96" stroke="#e07070" stroke-width="1.1"/>
<rect x="1213.64" y="1050.44" width="3.4" height="3.4" fill="#111"/>
<rect x="1222.74" y="1036.22" width="3.4" height="3.4" fill="#111"/>
<rect x="1240.93" y="1025.04" width="3.4" height="3.4" fill="#111"/>
<rect x="1259.11" y="1009.8" width="3.4" height="3.4" fill="#111"/>
<rect x="1277.3" y="986.44" width="3.4" height="3.4" fill="#111"/>
<rect x="1295.49" y="975.26" width="3.4" height="3.4" fill="#111"/>
<rect x="1313.68" y="960.02" width="3.4" height="3.4" fill="#111"/>
<rect x="1331.87" y="949.35" width="3.4" height="3.4" fill="#111"/>
<rect x="1350.05" y="937.16" width="3.4" height="3.4" fill="#111"/>
<rect x="1368.24" y="922.94" width="3.4" height="3.4" fill="#111"/>
<rect x="1386.43" y="910.24" width="3.4" height="3.4" fill="#111"/>
<rect x="1404.62" y="899.06" width="3.4" height="3.4" fill="#111"/>
<text x="1285.8" y="1029.5" font-size="10.5" font-family='"Liberation Serif", serif' font-weight="bold" fill="#333" textLength="39.8" lengthAdjust="spacingAndGlyphs">R<tspan font-size="7" dy="-4">2</tspan><tspan dy="4">=0.9927</tspan></text>
<text x="1285.8" y="1040.4" font-size="10.2" font-family='"Liberation Serif", serif' font-weight="bold" fill="#333" textLength="114" lengthAdjust="spacingAndGlyphs">i<tspan font-size="7" dy="2.5">p</tspan><tspan dy="-2.5">(µA)=0.1402v(mV/s)+3.1008</tspan></text>
</svg>
</body></html>
